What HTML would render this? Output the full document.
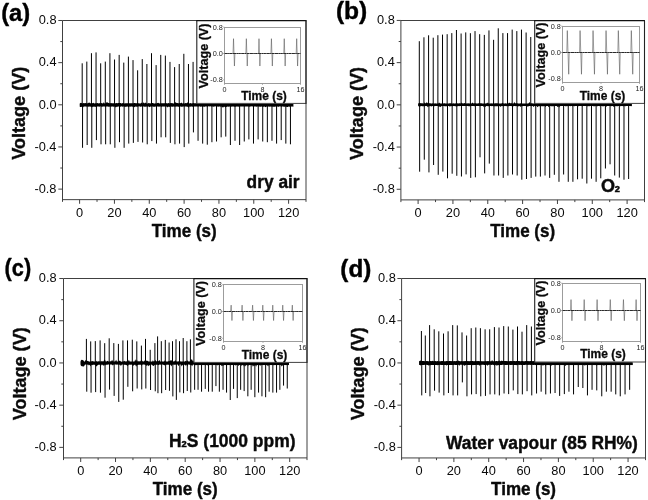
<!DOCTYPE html>
<html><head><meta charset="utf-8"><title>Voltage response</title>
<style>
html,body{margin:0;padding:0;background:#fff;}
svg{display:block;font-family:"Liberation Sans",sans-serif;will-change:transform;}
text{-webkit-font-smoothing:antialiased;}
</style></head>
<body>
<svg width="648" height="500" viewBox="0 0 648 500">
<rect width="648" height="500" fill="#fff"/>
<g stroke="#000" stroke-width="1.0" fill="none">
<line x1="82.20" y1="104.80" x2="82.20" y2="63.30"/>
<line x1="82.55" y1="104.80" x2="82.55" y2="147.80"/>
<line x1="86.82" y1="104.80" x2="86.82" y2="61.60"/>
<line x1="87.17" y1="104.80" x2="87.17" y2="145.00"/>
<line x1="91.44" y1="104.80" x2="91.44" y2="53.20"/>
<line x1="91.79" y1="104.80" x2="91.79" y2="147.80"/>
<line x1="96.06" y1="104.80" x2="96.06" y2="52.40"/>
<line x1="96.41" y1="104.80" x2="96.41" y2="140.10"/>
<line x1="100.68" y1="104.80" x2="100.68" y2="63.30"/>
<line x1="101.03" y1="104.80" x2="101.03" y2="144.30"/>
<line x1="105.30" y1="104.80" x2="105.30" y2="61.60"/>
<line x1="105.65" y1="104.80" x2="105.65" y2="144.30"/>
<line x1="109.92" y1="104.80" x2="109.92" y2="53.20"/>
<line x1="110.27" y1="104.80" x2="110.27" y2="144.30"/>
<line x1="114.54" y1="104.80" x2="114.54" y2="59.50"/>
<line x1="114.89" y1="104.80" x2="114.89" y2="147.80"/>
<line x1="119.16" y1="104.80" x2="119.16" y2="54.90"/>
<line x1="119.51" y1="104.80" x2="119.51" y2="142.20"/>
<line x1="123.78" y1="104.80" x2="123.78" y2="62.60"/>
<line x1="124.13" y1="104.80" x2="124.13" y2="147.80"/>
<line x1="128.40" y1="104.80" x2="128.40" y2="56.60"/>
<line x1="128.75" y1="104.80" x2="128.75" y2="143.60"/>
<line x1="133.02" y1="104.80" x2="133.02" y2="60.10"/>
<line x1="133.37" y1="104.80" x2="133.37" y2="142.90"/>
<line x1="137.64" y1="104.80" x2="137.64" y2="70.30"/>
<line x1="137.99" y1="104.80" x2="137.99" y2="141.90"/>
<line x1="142.26" y1="104.80" x2="142.26" y2="59.10"/>
<line x1="142.61" y1="104.80" x2="142.61" y2="142.50"/>
<line x1="146.88" y1="104.80" x2="146.88" y2="64.00"/>
<line x1="147.23" y1="104.80" x2="147.23" y2="144.30"/>
<line x1="151.50" y1="104.80" x2="151.50" y2="53.20"/>
<line x1="151.85" y1="104.80" x2="151.85" y2="141.10"/>
<line x1="156.12" y1="104.80" x2="156.12" y2="65.10"/>
<line x1="156.47" y1="104.80" x2="156.47" y2="143.60"/>
<line x1="160.74" y1="104.80" x2="160.74" y2="54.90"/>
<line x1="161.09" y1="104.80" x2="161.09" y2="137.30"/>
<line x1="165.36" y1="104.80" x2="165.36" y2="55.60"/>
<line x1="165.71" y1="104.80" x2="165.71" y2="137.30"/>
<line x1="169.98" y1="104.80" x2="169.98" y2="61.90"/>
<line x1="170.33" y1="104.80" x2="170.33" y2="142.90"/>
<line x1="174.60" y1="104.80" x2="174.60" y2="67.10"/>
<line x1="174.95" y1="104.80" x2="174.95" y2="144.30"/>
<line x1="179.22" y1="104.80" x2="179.22" y2="64.00"/>
<line x1="179.57" y1="104.80" x2="179.57" y2="143.60"/>
<line x1="183.84" y1="104.80" x2="183.84" y2="53.80"/>
<line x1="184.19" y1="104.80" x2="184.19" y2="147.10"/>
<line x1="188.46" y1="104.80" x2="188.46" y2="64.00"/>
<line x1="188.81" y1="104.80" x2="188.81" y2="143.60"/>
<line x1="193.08" y1="104.80" x2="193.08" y2="61.90"/>
<line x1="193.43" y1="104.80" x2="193.43" y2="132.40"/>
<line x1="198.05" y1="104.80" x2="198.05" y2="140.80"/>
<line x1="202.67" y1="104.80" x2="202.67" y2="143.60"/>
<line x1="207.29" y1="104.80" x2="207.29" y2="144.70"/>
<line x1="211.91" y1="104.80" x2="211.91" y2="142.20"/>
<line x1="216.53" y1="104.80" x2="216.53" y2="141.50"/>
<line x1="221.15" y1="104.80" x2="221.15" y2="137.30"/>
<line x1="225.77" y1="104.80" x2="225.77" y2="136.60"/>
<line x1="230.39" y1="104.80" x2="230.39" y2="145.00"/>
<line x1="235.01" y1="104.80" x2="235.01" y2="140.80"/>
<line x1="239.63" y1="104.80" x2="239.63" y2="145.00"/>
<line x1="244.25" y1="104.80" x2="244.25" y2="141.50"/>
<line x1="248.87" y1="104.80" x2="248.87" y2="139.40"/>
<line x1="253.49" y1="104.80" x2="253.49" y2="143.60"/>
<line x1="258.11" y1="104.80" x2="258.11" y2="139.40"/>
<line x1="262.73" y1="104.80" x2="262.73" y2="141.50"/>
<line x1="267.35" y1="104.80" x2="267.35" y2="142.20"/>
<line x1="271.97" y1="104.80" x2="271.97" y2="140.80"/>
<line x1="276.59" y1="104.80" x2="276.59" y2="143.60"/>
<line x1="281.21" y1="104.80" x2="281.21" y2="140.10"/>
<line x1="285.83" y1="104.80" x2="285.83" y2="143.60"/>
<line x1="290.45" y1="104.80" x2="290.45" y2="144.30"/>
</g>
<polygon points="79.8,103.30 80.6,103.29 81.4,103.42 82.2,103.39 83.0,103.19 83.8,102.95 84.6,103.37 85.4,102.96 86.2,103.26 87.0,103.32 87.8,103.19 88.6,102.82 89.4,102.58 90.2,103.19 91.0,103.18 91.8,103.02 92.6,103.16 93.4,102.72 94.2,103.40 95.0,103.34 95.8,103.20 96.6,103.32 97.4,103.02 98.2,103.34 99.0,103.45 99.8,103.02 100.6,103.15 101.4,103.06 102.2,103.32 103.0,103.38 103.8,102.36 104.6,103.38 105.4,103.39 106.2,102.82 107.0,101.94 107.8,102.75 108.6,103.06 109.4,103.37 110.2,103.30 111.0,103.07 111.8,103.35 112.6,103.32 113.4,103.25 114.2,103.29 115.0,103.36 115.8,103.23 116.6,103.04 117.4,103.37 118.2,103.01 119.0,103.12 119.8,103.04 120.6,103.01 121.4,103.39 122.2,103.21 123.0,103.08 123.8,103.34 124.6,103.39 125.4,103.19 126.2,103.22 127.0,103.37 127.8,103.24 128.6,103.22 129.4,103.34 130.2,103.20 131.0,103.17 131.8,103.25 132.6,103.14 133.4,103.20 134.2,103.11 135.0,103.10 135.8,103.15 136.6,103.35 137.4,103.00 138.2,103.22 139.0,103.13 139.8,103.44 140.6,103.42 141.4,102.47 142.2,103.39 143.0,103.33 143.8,102.31 144.6,103.42 145.4,102.38 146.2,103.30 147.0,103.39 147.8,103.43 148.6,103.11 149.4,103.29 150.2,103.20 151.0,103.40 151.8,103.07 152.6,103.01 153.4,103.16 154.2,103.42 155.0,103.41 155.8,103.32 156.6,103.38 157.4,103.01 158.2,102.85 159.0,103.22 159.8,103.38 160.6,103.35 161.4,103.15 162.2,103.30 163.0,103.16 163.8,103.17 164.6,103.21 165.4,103.08 166.2,102.98 167.0,103.40 167.8,103.17 168.6,103.11 169.4,103.42 170.2,103.12 171.0,103.23 171.8,103.10 172.6,103.34 173.4,103.44 174.2,103.14 175.0,102.17 175.8,102.46 176.6,103.01 177.4,103.02 178.2,103.21 179.0,103.22 179.8,103.04 180.6,103.25 181.4,102.41 182.2,103.40 183.0,103.32 183.8,103.18 184.6,103.43 185.4,103.03 186.2,103.36 187.0,103.08 187.8,102.32 188.6,103.11 189.4,103.39 190.2,103.12 191.0,103.31 191.8,103.38 192.6,103.35 193.4,102.98 194.2,103.33 195.0,103.26 195.8,103.30 196.6,103.39 197.4,103.35 198.2,103.25 199.0,103.44 199.8,102.77 200.6,103.08 201.4,103.40 202.2,103.03 203.0,102.31 203.8,103.04 204.6,103.34 205.4,103.21 206.2,103.18 207.0,103.02 207.8,103.34 208.6,103.31 209.4,103.26 210.2,103.35 211.0,103.14 211.8,103.22 212.6,103.08 213.4,103.32 214.2,103.35 215.0,103.38 215.8,102.91 216.6,103.05 217.4,103.30 218.2,103.44 219.0,102.96 219.8,103.02 220.6,103.29 221.4,103.43 222.2,103.36 223.0,103.04 223.8,103.33 224.6,103.33 225.4,103.13 226.2,103.04 227.0,103.24 227.8,103.34 228.6,103.37 229.4,103.10 230.2,103.05 231.0,102.68 231.8,103.01 232.6,103.41 233.4,103.25 234.2,103.15 235.0,103.40 235.8,103.28 236.6,103.34 237.4,103.30 238.2,103.35 239.0,103.40 239.8,103.04 240.6,103.01 241.4,103.06 242.2,103.02 243.0,103.35 243.8,103.34 244.6,103.44 245.4,103.31 246.2,103.42 247.0,103.16 247.8,103.27 248.6,103.31 249.4,103.06 250.2,102.04 251.0,103.08 251.8,103.38 252.6,103.04 253.4,103.22 254.2,103.03 255.0,103.01 255.8,101.90 256.6,103.04 257.4,103.10 258.2,103.08 259.0,103.22 259.8,102.45 260.6,102.71 261.4,103.17 262.2,103.26 263.0,103.44 263.8,103.11 264.6,103.24 265.4,103.41 266.2,103.41 267.0,103.43 267.8,103.39 268.6,103.08 269.4,103.02 270.2,103.03 271.0,103.38 271.8,103.39 272.6,103.33 273.4,103.38 274.2,102.74 275.0,103.29 275.8,103.05 276.6,103.27 277.4,103.19 278.2,102.39 279.0,103.16 279.8,103.13 280.6,103.26 281.4,103.34 282.2,103.40 283.0,103.18 283.8,103.39 284.6,103.41 285.4,102.50 286.2,103.29 287.0,103.12 287.8,102.33 288.6,103.03 289.4,103.22 290.2,102.24 291.0,103.13 291.8,103.24 292.6,103.00 293.4,103.14 293.4,106.73 292.6,106.45 291.8,106.68 291.0,106.35 290.2,106.49 289.4,106.64 288.6,106.41 287.8,107.12 287.0,107.10 286.2,106.64 285.4,106.47 284.6,106.64 283.8,106.77 283.0,106.44 282.2,106.51 281.4,106.64 280.6,106.58 279.8,106.35 279.0,106.79 278.2,106.68 277.4,106.51 276.6,106.71 275.8,106.40 275.0,106.74 274.2,106.70 273.4,106.77 272.6,106.80 271.8,106.58 271.0,106.75 270.2,106.38 269.4,106.76 268.6,106.44 267.8,106.74 267.0,106.58 266.2,106.68 265.4,107.31 264.6,106.40 263.8,106.70 263.0,106.63 262.2,106.65 261.4,106.49 260.6,106.73 259.8,106.75 259.0,106.52 258.2,106.43 257.4,106.45 256.6,106.63 255.8,106.57 255.0,106.44 254.2,106.40 253.4,106.42 252.6,106.39 251.8,106.36 251.0,106.53 250.2,106.44 249.4,106.80 248.6,106.60 247.8,106.48 247.0,106.39 246.2,106.40 245.4,106.44 244.6,106.50 243.8,106.62 243.0,106.52 242.2,106.40 241.4,106.55 240.6,106.61 239.8,106.60 239.0,106.56 238.2,106.71 237.4,106.53 236.6,106.42 235.8,106.68 235.0,106.73 234.2,106.69 233.4,106.46 232.6,106.39 231.8,106.75 231.0,106.38 230.2,106.70 229.4,106.62 228.6,106.71 227.8,106.54 227.0,106.78 226.2,106.92 225.4,107.40 224.6,106.78 223.8,106.69 223.0,107.80 222.2,107.01 221.4,106.56 220.6,106.72 219.8,106.41 219.0,106.43 218.2,106.65 217.4,106.43 216.6,106.68 215.8,106.37 215.0,106.53 214.2,106.54 213.4,106.78 212.6,106.45 211.8,106.44 211.0,106.44 210.2,106.37 209.4,106.47 208.6,106.36 207.8,106.46 207.0,106.64 206.2,106.35 205.4,106.61 204.6,106.72 203.8,106.64 203.0,106.60 202.2,106.67 201.4,106.42 200.6,106.73 199.8,106.61 199.0,106.36 198.2,106.78 197.4,106.47 196.6,106.58 195.8,106.38 195.0,106.54 194.2,106.61 193.4,106.72 192.6,106.76 191.8,106.44 191.0,106.60 190.2,106.79 189.4,106.56 188.6,107.75 187.8,106.67 187.0,106.63 186.2,106.52 185.4,106.46 184.6,106.40 183.8,106.51 183.0,106.52 182.2,106.77 181.4,106.73 180.6,106.49 179.8,106.57 179.0,106.75 178.2,106.78 177.4,106.44 176.6,106.55 175.8,106.77 175.0,106.56 174.2,106.65 173.4,106.38 172.6,106.68 171.8,106.80 171.0,106.52 170.2,106.44 169.4,107.00 168.6,106.58 167.8,107.61 167.0,106.73 166.2,106.45 165.4,106.61 164.6,106.58 163.8,106.68 163.0,106.37 162.2,106.79 161.4,106.67 160.6,106.61 159.8,106.53 159.0,106.76 158.2,106.51 157.4,106.60 156.6,106.55 155.8,106.46 155.0,106.73 154.2,106.68 153.4,106.69 152.6,106.50 151.8,106.53 151.0,106.72 150.2,106.44 149.4,107.24 148.6,106.48 147.8,106.44 147.0,106.78 146.2,106.60 145.4,106.74 144.6,106.77 143.8,106.39 143.0,106.42 142.2,106.54 141.4,106.47 140.6,106.79 139.8,106.50 139.0,106.36 138.2,106.50 137.4,106.72 136.6,106.78 135.8,106.41 135.0,106.75 134.2,107.35 133.4,106.77 132.6,106.74 131.8,106.59 131.0,106.58 130.2,106.69 129.4,106.47 128.6,107.27 127.8,106.68 127.0,106.35 126.2,107.12 125.4,106.76 124.6,106.76 123.8,106.61 123.0,106.44 122.2,106.77 121.4,106.36 120.6,106.65 119.8,106.71 119.0,106.43 118.2,106.53 117.4,106.71 116.6,106.70 115.8,107.44 115.0,106.63 114.2,106.45 113.4,106.77 112.6,106.47 111.8,106.62 111.0,106.71 110.2,106.45 109.4,106.70 108.6,106.66 107.8,106.59 107.0,106.42 106.2,106.39 105.4,106.73 104.6,106.46 103.8,106.51 103.0,106.50 102.2,106.64 101.4,106.71 100.6,106.37 99.8,106.66 99.0,106.54 98.2,106.57 97.4,106.42 96.6,106.54 95.8,106.75 95.0,107.06 94.2,106.38 93.4,106.65 92.6,106.80 91.8,107.41 91.0,106.61 90.2,106.74 89.4,106.57 88.6,106.79 87.8,106.59 87.0,106.71 86.2,106.49 85.4,106.38 84.6,106.61 83.8,106.41 83.0,107.56 82.2,106.45 81.4,106.39 80.6,106.90 79.8,107.06" fill="#000"/>
<ellipse cx="81.00" cy="104.90" rx="1.2" ry="2.15" fill="#000"/>
<rect x="196.80" y="20.50" width="109.20" height="83.40" fill="#fff" stroke="none"/>
<line x1="196.80" y1="20.50" x2="196.80" y2="103.90" stroke="#222" stroke-width="1.1" />
<line x1="196.80" y1="103.40" x2="306.00" y2="103.40" stroke="#404040" stroke-width="1.0" />
<rect x="224.50" y="27.50" width="76.00" height="56.00" fill="none" stroke="#9c9c9c" stroke-width="1"/>
<path d="M224.50,53.50 L233.03,53.50 L233.53,38.68 L234.43,66.02 L234.93,53.50 L245.85,53.50 L246.35,38.68 L247.25,66.02 L247.75,53.50 L258.49,53.50 L258.99,38.68 L259.88,66.02 L260.38,53.50 L270.93,53.50 L271.43,38.68 L272.33,66.02 L272.83,53.50 L283.75,53.50 L284.25,38.68 L285.15,66.02 L285.65,53.50 L296.20,53.50 L296.70,38.68 L297.60,66.02 L298.10,53.50 L300.50,53.50" stroke="#505050" stroke-width="0.55" fill="none"/>
<line x1="224.50" y1="53.50" x2="300.50" y2="53.50" stroke="#2a2a2a" stroke-width="1.0" stroke-dasharray="3.2 0.5 1.4 0.4 2.3 0.6"/>
<line x1="223.00" y1="27.15" x2="224.50" y2="27.15" stroke="#999" stroke-width="0.7" />
<text x="222.80" y="29.75" font-size="7.3" fill="#222" text-anchor="end" >0.8</text>
<line x1="223.00" y1="53.50" x2="224.50" y2="53.50" stroke="#999" stroke-width="0.7" />
<text x="222.80" y="56.10" font-size="7.3" fill="#222" text-anchor="end" >0.0</text>
<line x1="223.00" y1="79.85" x2="224.50" y2="79.85" stroke="#999" stroke-width="0.7" />
<text x="222.80" y="82.45" font-size="7.3" fill="#222" text-anchor="end" >-0.8</text>
<line x1="224.50" y1="83.50" x2="224.50" y2="85.00" stroke="#999" stroke-width="0.7" />
<text x="224.50" y="91.70" font-size="7.2" fill="#222" text-anchor="middle" >0</text>
<line x1="262.50" y1="83.50" x2="262.50" y2="85.00" stroke="#999" stroke-width="0.7" />
<text x="262.50" y="91.70" font-size="7.2" fill="#222" text-anchor="middle" >8</text>
<line x1="300.50" y1="83.50" x2="300.50" y2="85.00" stroke="#999" stroke-width="0.7" />
<text x="300.50" y="91.70" font-size="7.2" fill="#222" text-anchor="middle" >16</text>
<text x="241.20" y="99.80" font-size="12.4" fill="#0a0a0a" text-anchor="start" font-weight="700" stroke="#0a0a0a" stroke-width="0.3" stroke-linejoin="round" textLength="45.60" lengthAdjust="spacingAndGlyphs" >Time (s)</text>
<text x="208.20" y="88.50" font-size="12.6" fill="#0a0a0a" text-anchor="start" font-weight="700" stroke="#0a0a0a" stroke-width="0.3" stroke-linejoin="round" textLength="65.00" lengthAdjust="spacingAndGlyphs" transform="rotate(-90 208.20 88.50)" >Voltage (V)</text>
<path d="M62.50,201.85 V20.50 H306.00 V201.85 M62.50,199.65 H306.00" stroke="#404040" stroke-width="1.0" fill="none"/>
<line x1="196.30" y1="20.60" x2="306.50" y2="20.60" stroke="#111" stroke-width="1.2" />
<line x1="306.00" y1="20.50" x2="306.00" y2="103.90" stroke="#222" stroke-width="1.1" />
<line x1="58.30" y1="189.11" x2="62.50" y2="189.11" stroke="#404040" stroke-width="1.0" />
<text x="56.50" y="192.81" font-size="12.8" fill="#0a0a0a" text-anchor="end" >-0.8</text>
<line x1="60.30" y1="168.03" x2="62.50" y2="168.03" stroke="#404040" stroke-width="1.0" />
<line x1="58.30" y1="146.95" x2="62.50" y2="146.95" stroke="#404040" stroke-width="1.0" />
<text x="56.50" y="150.65" font-size="12.8" fill="#0a0a0a" text-anchor="end" >-0.4</text>
<line x1="60.30" y1="125.88" x2="62.50" y2="125.88" stroke="#404040" stroke-width="1.0" />
<line x1="58.30" y1="104.80" x2="62.50" y2="104.80" stroke="#404040" stroke-width="1.0" />
<text x="56.50" y="108.50" font-size="12.8" fill="#0a0a0a" text-anchor="end" >0.0</text>
<line x1="60.30" y1="83.72" x2="62.50" y2="83.72" stroke="#404040" stroke-width="1.0" />
<line x1="58.30" y1="62.65" x2="62.50" y2="62.65" stroke="#404040" stroke-width="1.0" />
<text x="56.50" y="66.35" font-size="12.8" fill="#0a0a0a" text-anchor="end" >0.4</text>
<line x1="60.30" y1="41.57" x2="62.50" y2="41.57" stroke="#404040" stroke-width="1.0" />
<line x1="58.30" y1="20.49" x2="62.50" y2="20.49" stroke="#404040" stroke-width="1.0" />
<text x="56.50" y="24.19" font-size="12.8" fill="#0a0a0a" text-anchor="end" >0.8</text>
<line x1="79.60" y1="199.65" x2="79.60" y2="203.75" stroke="#404040" stroke-width="1.0" />
<text x="79.60" y="217.05" font-size="12.8" fill="#0a0a0a" text-anchor="middle" >0</text>
<line x1="97.02" y1="199.65" x2="97.02" y2="201.85" stroke="#404040" stroke-width="1.0" />
<line x1="114.43" y1="199.65" x2="114.43" y2="203.75" stroke="#404040" stroke-width="1.0" />
<text x="114.43" y="217.05" font-size="12.8" fill="#0a0a0a" text-anchor="middle" >20</text>
<line x1="131.85" y1="199.65" x2="131.85" y2="201.85" stroke="#404040" stroke-width="1.0" />
<line x1="149.27" y1="199.65" x2="149.27" y2="203.75" stroke="#404040" stroke-width="1.0" />
<text x="149.27" y="217.05" font-size="12.8" fill="#0a0a0a" text-anchor="middle" >40</text>
<line x1="166.69" y1="199.65" x2="166.69" y2="201.85" stroke="#404040" stroke-width="1.0" />
<line x1="184.10" y1="199.65" x2="184.10" y2="203.75" stroke="#404040" stroke-width="1.0" />
<text x="184.10" y="217.05" font-size="12.8" fill="#0a0a0a" text-anchor="middle" >60</text>
<line x1="201.52" y1="199.65" x2="201.52" y2="201.85" stroke="#404040" stroke-width="1.0" />
<line x1="218.94" y1="199.65" x2="218.94" y2="203.75" stroke="#404040" stroke-width="1.0" />
<text x="218.94" y="217.05" font-size="12.8" fill="#0a0a0a" text-anchor="middle" >80</text>
<line x1="236.35" y1="199.65" x2="236.35" y2="201.85" stroke="#404040" stroke-width="1.0" />
<line x1="253.77" y1="199.65" x2="253.77" y2="203.75" stroke="#404040" stroke-width="1.0" />
<text x="253.77" y="217.05" font-size="12.8" fill="#0a0a0a" text-anchor="middle" >100</text>
<line x1="271.19" y1="199.65" x2="271.19" y2="201.85" stroke="#404040" stroke-width="1.0" />
<line x1="288.60" y1="199.65" x2="288.60" y2="203.75" stroke="#404040" stroke-width="1.0" />
<text x="288.60" y="217.05" font-size="12.8" fill="#0a0a0a" text-anchor="middle" >120</text>
<text x="151.75" y="236.75" font-size="18" fill="#0a0a0a" text-anchor="start" font-weight="700" stroke="#0a0a0a" stroke-width="0.4" stroke-linejoin="round" textLength="65.00" lengthAdjust="spacingAndGlyphs" >Time (s)</text>
<text x="25.30" y="159.78" font-size="18" fill="#0a0a0a" text-anchor="start" font-weight="700" stroke="#0a0a0a" stroke-width="0.4" stroke-linejoin="round" textLength="93.00" lengthAdjust="spacingAndGlyphs" transform="rotate(-90 25.30 159.78)" >Voltage (V)</text>
<text x="1.20" y="20.60" font-size="24" fill="#000" text-anchor="start" font-weight="700" stroke="#000" stroke-width="0.4" stroke-linejoin="round" textLength="29.00" lengthAdjust="spacingAndGlyphs" >(a)</text>
<text x="246.60" y="187.70" font-size="18" fill="#0a0a0a" text-anchor="start" font-weight="700" stroke="#0a0a0a" stroke-width="0.4" stroke-linejoin="round" textLength="53.00" lengthAdjust="spacingAndGlyphs" >dry air</text>
<g stroke="#000" stroke-width="1.0" fill="none">
<line x1="419.30" y1="104.85" x2="419.30" y2="41.20"/>
<line x1="419.65" y1="104.85" x2="419.65" y2="171.70"/>
<line x1="423.94" y1="104.85" x2="423.94" y2="37.30"/>
<line x1="424.29" y1="104.85" x2="424.29" y2="159.70"/>
<line x1="428.59" y1="104.85" x2="428.59" y2="35.30"/>
<line x1="428.94" y1="104.85" x2="428.94" y2="172.40"/>
<line x1="433.23" y1="104.85" x2="433.23" y2="37.70"/>
<line x1="433.58" y1="104.85" x2="433.58" y2="165.00"/>
<line x1="437.88" y1="104.85" x2="437.88" y2="35.20"/>
<line x1="438.23" y1="104.85" x2="438.23" y2="174.80"/>
<line x1="442.52" y1="104.85" x2="442.52" y2="34.60"/>
<line x1="442.87" y1="104.85" x2="442.87" y2="171.60"/>
<line x1="447.16" y1="104.85" x2="447.16" y2="34.20"/>
<line x1="447.51" y1="104.85" x2="447.51" y2="178.30"/>
<line x1="451.81" y1="104.85" x2="451.81" y2="33.10"/>
<line x1="452.16" y1="104.85" x2="452.16" y2="173.70"/>
<line x1="456.45" y1="104.85" x2="456.45" y2="30.00"/>
<line x1="456.80" y1="104.85" x2="456.80" y2="175.80"/>
<line x1="461.10" y1="104.85" x2="461.10" y2="33.50"/>
<line x1="461.45" y1="104.85" x2="461.45" y2="176.50"/>
<line x1="465.74" y1="104.85" x2="465.74" y2="32.40"/>
<line x1="466.09" y1="104.85" x2="466.09" y2="174.40"/>
<line x1="470.38" y1="104.85" x2="470.38" y2="33.20"/>
<line x1="470.73" y1="104.85" x2="470.73" y2="177.90"/>
<line x1="475.03" y1="104.85" x2="475.03" y2="31.10"/>
<line x1="475.38" y1="104.85" x2="475.38" y2="177.30"/>
<line x1="479.67" y1="104.85" x2="479.67" y2="34.20"/>
<line x1="480.02" y1="104.85" x2="480.02" y2="157.30"/>
<line x1="484.32" y1="104.85" x2="484.32" y2="34.90"/>
<line x1="484.67" y1="104.85" x2="484.67" y2="173.40"/>
<line x1="488.96" y1="104.85" x2="488.96" y2="30.40"/>
<line x1="489.31" y1="104.85" x2="489.31" y2="163.60"/>
<line x1="493.60" y1="104.85" x2="493.60" y2="39.80"/>
<line x1="493.95" y1="104.85" x2="493.95" y2="175.50"/>
<line x1="498.25" y1="104.85" x2="498.25" y2="28.30"/>
<line x1="498.60" y1="104.85" x2="498.60" y2="175.50"/>
<line x1="502.89" y1="104.85" x2="502.89" y2="33.10"/>
<line x1="503.24" y1="104.85" x2="503.24" y2="177.90"/>
<line x1="507.54" y1="104.85" x2="507.54" y2="33.10"/>
<line x1="507.89" y1="104.85" x2="507.89" y2="175.50"/>
<line x1="512.18" y1="104.85" x2="512.18" y2="29.60"/>
<line x1="512.53" y1="104.85" x2="512.53" y2="174.50"/>
<line x1="516.82" y1="104.85" x2="516.82" y2="31.10"/>
<line x1="517.17" y1="104.85" x2="517.17" y2="175.50"/>
<line x1="521.47" y1="104.85" x2="521.47" y2="29.60"/>
<line x1="521.82" y1="104.85" x2="521.82" y2="179.70"/>
<line x1="526.11" y1="104.85" x2="526.11" y2="32.50"/>
<line x1="526.46" y1="104.85" x2="526.46" y2="179.00"/>
<line x1="530.76" y1="104.85" x2="530.76" y2="37.00"/>
<line x1="531.11" y1="104.85" x2="531.11" y2="177.90"/>
<line x1="535.75" y1="104.85" x2="535.75" y2="176.60"/>
<line x1="540.39" y1="104.85" x2="540.39" y2="176.60"/>
<line x1="545.04" y1="104.85" x2="545.04" y2="175.50"/>
<line x1="549.68" y1="104.85" x2="549.68" y2="177.90"/>
<line x1="554.33" y1="104.85" x2="554.33" y2="174.80"/>
<line x1="558.97" y1="104.85" x2="558.97" y2="181.80"/>
<line x1="563.61" y1="104.85" x2="563.61" y2="174.50"/>
<line x1="568.26" y1="104.85" x2="568.26" y2="181.80"/>
<line x1="572.90" y1="104.85" x2="572.90" y2="181.80"/>
<line x1="577.55" y1="104.85" x2="577.55" y2="179.30"/>
<line x1="582.19" y1="104.85" x2="582.19" y2="178.70"/>
<line x1="586.83" y1="104.85" x2="586.83" y2="183.50"/>
<line x1="591.48" y1="104.85" x2="591.48" y2="178.70"/>
<line x1="596.12" y1="104.85" x2="596.12" y2="181.80"/>
<line x1="600.77" y1="104.85" x2="600.77" y2="178.30"/>
<line x1="605.41" y1="104.85" x2="605.41" y2="168.50"/>
<line x1="610.05" y1="104.85" x2="610.05" y2="164.30"/>
<line x1="614.70" y1="104.85" x2="614.70" y2="175.50"/>
<line x1="619.34" y1="104.85" x2="619.34" y2="177.60"/>
<line x1="623.99" y1="104.85" x2="623.99" y2="179.70"/>
<line x1="628.63" y1="104.85" x2="628.63" y2="179.00"/>
</g>
<polygon points="418.3,103.38 419.1,103.47 419.9,103.29 420.7,103.33 421.5,103.29 422.3,103.36 423.1,103.41 423.9,103.42 424.7,102.30 425.5,103.54 426.3,102.61 427.1,102.57 427.9,103.30 428.7,103.01 429.5,103.30 430.3,103.23 431.1,103.49 431.9,103.47 432.7,103.26 433.5,103.54 434.3,103.45 435.1,103.29 435.9,103.55 436.7,103.55 437.5,103.49 438.3,103.47 439.1,102.51 439.9,103.34 440.7,103.43 441.5,103.54 442.3,103.40 443.1,103.41 443.9,103.36 444.7,103.30 445.5,103.42 446.3,103.41 447.1,103.46 447.9,103.50 448.7,103.50 449.5,103.33 450.3,103.25 451.1,103.22 451.9,103.54 452.7,103.40 453.5,103.37 454.3,103.42 455.1,103.48 455.9,103.34 456.7,103.41 457.5,103.32 458.3,103.42 459.1,103.35 459.9,103.32 460.7,103.54 461.5,102.52 462.3,103.33 463.1,103.39 463.9,103.34 464.7,102.90 465.5,103.55 466.3,103.44 467.1,103.27 467.9,103.43 468.7,103.31 469.5,103.48 470.3,103.30 471.1,103.39 471.9,103.29 472.7,102.48 473.5,103.48 474.3,103.36 475.1,103.29 475.9,103.31 476.7,103.55 477.5,103.47 478.3,103.32 479.1,103.31 479.9,103.32 480.7,103.30 481.5,103.33 482.3,103.47 483.1,103.53 483.9,103.40 484.7,103.41 485.5,103.44 486.3,103.36 487.1,103.27 487.9,102.47 488.7,103.45 489.5,103.39 490.3,103.42 491.1,103.30 491.9,103.40 492.7,103.45 493.5,102.42 494.3,103.39 495.1,103.27 495.9,103.28 496.7,103.34 497.5,103.35 498.3,103.54 499.1,103.44 499.9,103.47 500.7,103.42 501.5,103.54 502.3,102.77 503.1,103.27 503.9,103.52 504.7,103.55 505.5,103.26 506.3,103.54 507.1,103.49 507.9,102.48 508.7,103.41 509.5,102.49 510.3,103.53 511.1,102.81 511.9,103.42 512.7,103.44 513.5,103.43 514.3,102.11 515.1,103.30 515.9,103.30 516.7,103.28 517.5,103.28 518.3,103.42 519.1,103.54 519.9,103.38 520.7,103.34 521.5,103.31 522.3,103.48 523.1,103.49 523.9,103.41 524.7,103.48 525.5,103.39 526.3,103.49 527.1,103.38 527.9,103.54 528.7,103.31 529.5,102.11 530.3,103.40 531.1,103.42 531.9,103.00 532.7,103.52 533.5,103.41 534.3,103.43 535.1,103.38 535.9,103.43 536.7,102.92 537.5,103.28 538.3,103.34 539.1,103.32 539.9,102.95 540.7,103.51 541.5,102.57 542.3,103.54 543.1,103.29 543.9,103.52 544.7,103.41 545.5,103.36 546.3,103.38 547.1,103.43 547.9,103.45 548.7,103.28 549.5,103.35 550.3,103.47 551.1,102.87 551.9,103.53 552.7,103.55 553.5,103.55 554.3,103.42 555.1,103.51 555.9,102.70 556.7,103.47 557.5,103.31 558.3,102.37 559.1,103.30 559.9,103.41 560.7,103.30 561.5,103.37 562.3,103.40 563.1,103.29 563.9,103.32 564.7,103.40 565.5,103.54 566.3,103.52 567.1,102.56 567.9,102.26 568.7,103.54 569.5,103.47 570.3,103.37 571.1,103.33 571.9,103.43 572.7,103.43 573.5,103.48 574.3,103.31 575.1,103.53 575.9,103.48 576.7,103.39 577.5,103.54 578.3,103.27 579.1,103.28 579.9,103.35 580.7,103.36 581.5,103.26 582.3,103.51 583.1,103.47 583.9,103.51 584.7,102.75 585.5,103.37 586.3,103.34 587.1,103.41 587.9,103.40 588.7,103.29 589.5,103.46 590.3,103.50 591.1,103.53 591.9,103.52 592.7,103.50 593.5,103.37 594.3,103.33 595.1,103.31 595.9,103.29 596.7,103.40 597.5,103.31 598.3,103.41 599.1,103.43 599.9,103.31 600.7,103.49 601.5,103.38 602.3,103.30 603.1,103.36 603.9,103.40 604.7,103.25 605.5,103.43 606.3,103.27 607.1,103.43 607.9,103.26 608.7,103.25 609.5,103.50 610.3,103.40 611.1,103.30 611.9,103.50 612.7,103.49 613.5,103.44 614.3,103.31 615.1,103.30 615.9,103.40 616.7,103.39 617.5,103.51 618.3,103.50 619.1,102.31 619.9,103.34 620.7,103.52 621.5,102.26 622.3,103.26 623.1,103.54 623.9,103.28 624.7,103.26 625.5,103.43 626.3,103.29 627.1,103.50 627.9,102.77 628.7,103.43 629.5,103.44 630.3,103.48 631.1,103.15 631.9,103.51 631.9,106.08 631.1,106.16 630.3,105.96 629.5,106.02 628.7,105.97 627.9,106.12 627.1,106.06 626.3,106.10 625.5,106.17 624.7,106.10 623.9,106.19 623.1,106.23 622.3,106.08 621.5,106.07 620.7,106.22 619.9,106.06 619.1,105.97 618.3,106.11 617.5,106.13 616.7,106.25 615.9,106.12 615.1,106.13 614.3,106.44 613.5,106.78 612.7,106.00 611.9,106.04 611.1,106.25 610.3,105.98 609.5,106.05 608.7,106.05 607.9,106.10 607.1,106.12 606.3,106.64 605.5,106.06 604.7,106.11 603.9,106.23 603.1,106.22 602.3,106.20 601.5,105.98 600.7,106.04 599.9,106.20 599.1,106.12 598.3,106.09 597.5,106.21 596.7,106.24 595.9,105.95 595.1,106.16 594.3,106.17 593.5,106.20 592.7,106.05 591.9,106.02 591.1,106.07 590.3,105.97 589.5,106.25 588.7,106.02 587.9,106.52 587.1,106.04 586.3,106.09 585.5,106.12 584.7,106.02 583.9,105.99 583.1,106.09 582.3,106.13 581.5,106.04 580.7,106.03 579.9,106.03 579.1,105.96 578.3,106.14 577.5,105.99 576.7,105.97 575.9,106.08 575.1,106.11 574.3,106.22 573.5,106.05 572.7,106.23 571.9,106.08 571.1,106.00 570.3,106.21 569.5,105.99 568.7,105.99 567.9,106.16 567.1,106.01 566.3,106.15 565.5,106.24 564.7,106.10 563.9,105.97 563.1,106.05 562.3,105.99 561.5,105.95 560.7,106.06 559.9,106.21 559.1,107.39 558.3,106.17 557.5,107.08 556.7,106.01 555.9,105.97 555.1,106.00 554.3,106.22 553.5,106.20 552.7,106.19 551.9,106.17 551.1,106.23 550.3,106.01 549.5,106.01 548.7,107.15 547.9,106.00 547.1,106.00 546.3,105.99 545.5,106.92 544.7,106.05 543.9,106.23 543.1,106.22 542.3,106.23 541.5,106.15 540.7,106.09 539.9,106.18 539.1,106.23 538.3,106.33 537.5,107.24 536.7,106.02 535.9,106.08 535.1,106.14 534.3,105.99 533.5,107.01 532.7,105.97 531.9,106.03 531.1,106.23 530.3,106.12 529.5,105.96 528.7,106.00 527.9,107.07 527.1,106.07 526.3,106.00 525.5,106.09 524.7,106.12 523.9,105.98 523.1,106.03 522.3,106.13 521.5,106.01 520.7,106.94 519.9,106.03 519.1,106.20 518.3,106.13 517.5,106.53 516.7,106.06 515.9,106.13 515.1,106.05 514.3,106.04 513.5,106.19 512.7,106.14 511.9,106.15 511.1,106.10 510.3,106.04 509.5,105.95 508.7,106.23 507.9,106.17 507.1,105.97 506.3,106.17 505.5,105.98 504.7,105.95 503.9,106.14 503.1,106.24 502.3,106.08 501.5,105.99 500.7,106.88 499.9,106.04 499.1,106.20 498.3,106.18 497.5,106.32 496.7,106.13 495.9,106.13 495.1,106.13 494.3,106.21 493.5,106.19 492.7,106.05 491.9,106.24 491.1,106.07 490.3,106.12 489.5,106.18 488.7,106.21 487.9,106.22 487.1,106.05 486.3,105.96 485.5,106.90 484.7,106.12 483.9,107.20 483.1,106.09 482.3,106.02 481.5,106.08 480.7,106.01 479.9,106.15 479.1,106.00 478.3,106.05 477.5,105.98 476.7,105.95 475.9,105.99 475.1,105.97 474.3,106.15 473.5,106.04 472.7,106.01 471.9,106.03 471.1,105.99 470.3,106.19 469.5,106.24 468.7,106.14 467.9,106.01 467.1,106.11 466.3,106.03 465.5,106.08 464.7,106.06 463.9,106.07 463.1,106.07 462.3,106.10 461.5,106.11 460.7,106.11 459.9,106.07 459.1,106.23 458.3,106.09 457.5,106.16 456.7,106.59 455.9,106.21 455.1,106.17 454.3,106.12 453.5,106.07 452.7,106.14 451.9,106.07 451.1,106.14 450.3,106.19 449.5,106.48 448.7,106.05 447.9,106.02 447.1,106.16 446.3,106.22 445.5,106.18 444.7,106.15 443.9,106.05 443.1,106.11 442.3,106.06 441.5,106.01 440.7,107.22 439.9,106.19 439.1,107.12 438.3,106.23 437.5,106.10 436.7,106.10 435.9,106.01 435.1,105.98 434.3,106.16 433.5,106.07 432.7,106.10 431.9,106.16 431.1,106.38 430.3,106.04 429.5,106.19 428.7,106.28 427.9,107.32 427.1,106.17 426.3,105.96 425.5,105.98 424.7,106.14 423.9,106.17 423.1,106.20 422.3,106.16 421.5,106.05 420.7,106.23 419.9,105.95 419.1,106.14 418.3,106.08" fill="#000"/>
<ellipse cx="419.50" cy="104.75" rx="1.2" ry="1.90" fill="#000"/>
<rect x="534.70" y="20.50" width="109.80" height="83.40" fill="#fff" stroke="none"/>
<line x1="534.70" y1="20.50" x2="534.70" y2="103.90" stroke="#222" stroke-width="1.1" />
<line x1="534.70" y1="103.40" x2="644.50" y2="103.40" stroke="#404040" stroke-width="1.0" />
<rect x="562.50" y="26.50" width="77.00" height="56.00" fill="none" stroke="#9c9c9c" stroke-width="1"/>
<path d="M562.50,52.50 L566.81,52.50 L567.31,30.59 L568.71,74.24 L569.21,52.50 L579.57,52.50 L580.07,30.59 L581.47,74.24 L581.97,52.50 L592.56,52.50 L593.06,30.59 L594.46,74.24 L594.96,52.50 L605.55,52.50 L606.05,30.59 L607.45,74.24 L607.95,52.50 L617.83,52.50 L618.33,30.59 L619.73,74.24 L620.23,52.50 L630.82,52.50 L631.32,30.59 L632.72,74.24 L633.22,52.50 L639.50,52.50" stroke="#505050" stroke-width="0.55" fill="none"/>
<line x1="562.50" y1="52.50" x2="639.50" y2="52.50" stroke="#2a2a2a" stroke-width="1.0" stroke-dasharray="3.2 0.5 1.4 0.4 2.3 0.6"/>
<line x1="561.00" y1="26.15" x2="562.50" y2="26.15" stroke="#999" stroke-width="0.7" />
<text x="560.80" y="28.75" font-size="7.3" fill="#222" text-anchor="end" >0.8</text>
<line x1="561.00" y1="52.50" x2="562.50" y2="52.50" stroke="#999" stroke-width="0.7" />
<text x="560.80" y="55.10" font-size="7.3" fill="#222" text-anchor="end" >0.0</text>
<line x1="561.00" y1="78.85" x2="562.50" y2="78.85" stroke="#999" stroke-width="0.7" />
<text x="560.80" y="81.45" font-size="7.3" fill="#222" text-anchor="end" >-0.8</text>
<line x1="562.50" y1="82.50" x2="562.50" y2="84.00" stroke="#999" stroke-width="0.7" />
<text x="562.50" y="90.70" font-size="7.2" fill="#222" text-anchor="middle" >0</text>
<line x1="601.00" y1="82.50" x2="601.00" y2="84.00" stroke="#999" stroke-width="0.7" />
<text x="601.00" y="90.70" font-size="7.2" fill="#222" text-anchor="middle" >8</text>
<line x1="639.50" y1="82.50" x2="639.50" y2="84.00" stroke="#999" stroke-width="0.7" />
<text x="639.50" y="90.70" font-size="7.2" fill="#222" text-anchor="middle" >16</text>
<text x="579.70" y="99.80" font-size="12.4" fill="#0a0a0a" text-anchor="start" font-weight="700" stroke="#0a0a0a" stroke-width="0.3" stroke-linejoin="round" textLength="45.60" lengthAdjust="spacingAndGlyphs" >Time (s)</text>
<text x="544.60" y="87.50" font-size="12.6" fill="#0a0a0a" text-anchor="start" font-weight="700" stroke="#0a0a0a" stroke-width="0.3" stroke-linejoin="round" textLength="65.00" lengthAdjust="spacingAndGlyphs" transform="rotate(-90 544.60 87.50)" >Voltage (V)</text>
<path d="M400.90,202.10 V20.50 H644.50 V202.10 M400.90,199.90 H644.50" stroke="#404040" stroke-width="1.0" fill="none"/>
<line x1="534.20" y1="20.60" x2="645.00" y2="20.60" stroke="#111" stroke-width="1.2" />
<line x1="644.50" y1="20.50" x2="644.50" y2="103.90" stroke="#222" stroke-width="1.1" />
<line x1="396.70" y1="189.27" x2="400.90" y2="189.27" stroke="#404040" stroke-width="1.0" />
<text x="394.80" y="192.97" font-size="12.8" fill="#0a0a0a" text-anchor="end" >-0.8</text>
<line x1="398.70" y1="168.17" x2="400.90" y2="168.17" stroke="#404040" stroke-width="1.0" />
<line x1="396.70" y1="147.06" x2="400.90" y2="147.06" stroke="#404040" stroke-width="1.0" />
<text x="394.80" y="150.76" font-size="12.8" fill="#0a0a0a" text-anchor="end" >-0.4</text>
<line x1="398.70" y1="125.96" x2="400.90" y2="125.96" stroke="#404040" stroke-width="1.0" />
<line x1="396.70" y1="104.85" x2="400.90" y2="104.85" stroke="#404040" stroke-width="1.0" />
<text x="394.80" y="108.55" font-size="12.8" fill="#0a0a0a" text-anchor="end" >0.0</text>
<line x1="398.70" y1="83.74" x2="400.90" y2="83.74" stroke="#404040" stroke-width="1.0" />
<line x1="396.70" y1="62.64" x2="400.90" y2="62.64" stroke="#404040" stroke-width="1.0" />
<text x="394.80" y="66.34" font-size="12.8" fill="#0a0a0a" text-anchor="end" >0.4</text>
<line x1="398.70" y1="41.53" x2="400.90" y2="41.53" stroke="#404040" stroke-width="1.0" />
<line x1="396.70" y1="20.43" x2="400.90" y2="20.43" stroke="#404040" stroke-width="1.0" />
<text x="394.80" y="24.13" font-size="12.8" fill="#0a0a0a" text-anchor="end" >0.8</text>
<line x1="418.10" y1="199.90" x2="418.10" y2="204.00" stroke="#404040" stroke-width="1.0" />
<text x="418.10" y="217.30" font-size="12.8" fill="#0a0a0a" text-anchor="middle" >0</text>
<line x1="435.52" y1="199.90" x2="435.52" y2="202.10" stroke="#404040" stroke-width="1.0" />
<line x1="452.93" y1="199.90" x2="452.93" y2="204.00" stroke="#404040" stroke-width="1.0" />
<text x="452.93" y="217.30" font-size="12.8" fill="#0a0a0a" text-anchor="middle" >20</text>
<line x1="470.35" y1="199.90" x2="470.35" y2="202.10" stroke="#404040" stroke-width="1.0" />
<line x1="487.77" y1="199.90" x2="487.77" y2="204.00" stroke="#404040" stroke-width="1.0" />
<text x="487.77" y="217.30" font-size="12.8" fill="#0a0a0a" text-anchor="middle" >40</text>
<line x1="505.19" y1="199.90" x2="505.19" y2="202.10" stroke="#404040" stroke-width="1.0" />
<line x1="522.60" y1="199.90" x2="522.60" y2="204.00" stroke="#404040" stroke-width="1.0" />
<text x="522.60" y="217.30" font-size="12.8" fill="#0a0a0a" text-anchor="middle" >60</text>
<line x1="540.02" y1="199.90" x2="540.02" y2="202.10" stroke="#404040" stroke-width="1.0" />
<line x1="557.44" y1="199.90" x2="557.44" y2="204.00" stroke="#404040" stroke-width="1.0" />
<text x="557.44" y="217.30" font-size="12.8" fill="#0a0a0a" text-anchor="middle" >80</text>
<line x1="574.85" y1="199.90" x2="574.85" y2="202.10" stroke="#404040" stroke-width="1.0" />
<line x1="592.27" y1="199.90" x2="592.27" y2="204.00" stroke="#404040" stroke-width="1.0" />
<text x="592.27" y="217.30" font-size="12.8" fill="#0a0a0a" text-anchor="middle" >100</text>
<line x1="609.69" y1="199.90" x2="609.69" y2="202.10" stroke="#404040" stroke-width="1.0" />
<line x1="627.10" y1="199.90" x2="627.10" y2="204.00" stroke="#404040" stroke-width="1.0" />
<text x="627.10" y="217.30" font-size="12.8" fill="#0a0a0a" text-anchor="middle" >120</text>
<text x="490.20" y="237.00" font-size="18" fill="#0a0a0a" text-anchor="start" font-weight="700" stroke="#0a0a0a" stroke-width="0.4" stroke-linejoin="round" textLength="65.00" lengthAdjust="spacingAndGlyphs" >Time (s)</text>
<text x="362.70" y="159.90" font-size="18" fill="#0a0a0a" text-anchor="start" font-weight="700" stroke="#0a0a0a" stroke-width="0.4" stroke-linejoin="round" textLength="93.00" lengthAdjust="spacingAndGlyphs" transform="rotate(-90 362.70 159.90)" >Voltage (V)</text>
<text x="335.90" y="19.00" font-size="24" fill="#000" text-anchor="start" font-weight="700" stroke="#000" stroke-width="0.4" stroke-linejoin="round" textLength="31.40" lengthAdjust="spacingAndGlyphs" >(b)</text>
<text x="601.00" y="192.30" font-size="18" font-weight="700" fill="#0a0a0a" stroke="#0a0a0a" stroke-width="0.4">O<tspan font-size="9.2" dx="-0.2" stroke-width="0.5">2</tspan></text>
<g stroke="#000" stroke-width="1.0" fill="none">
<line x1="86.40" y1="362.95" x2="86.40" y2="338.90"/>
<line x1="86.75" y1="362.95" x2="86.75" y2="391.70"/>
<line x1="90.70" y1="362.95" x2="90.70" y2="341.40"/>
<line x1="91.05" y1="362.95" x2="91.05" y2="392.70"/>
<line x1="95.30" y1="362.95" x2="95.30" y2="341.10"/>
<line x1="95.65" y1="362.95" x2="95.65" y2="392.10"/>
<line x1="100.10" y1="362.95" x2="100.10" y2="340.40"/>
<line x1="100.45" y1="362.95" x2="100.45" y2="392.70"/>
<line x1="104.70" y1="362.95" x2="104.70" y2="343.20"/>
<line x1="105.05" y1="362.95" x2="105.05" y2="397.70"/>
<line x1="109.20" y1="362.95" x2="109.20" y2="338.30"/>
<line x1="109.55" y1="362.95" x2="109.55" y2="389.60"/>
<line x1="113.80" y1="362.95" x2="113.80" y2="343.10"/>
<line x1="114.15" y1="362.95" x2="114.15" y2="395.90"/>
<line x1="118.40" y1="362.95" x2="118.40" y2="343.90"/>
<line x1="118.75" y1="362.95" x2="118.75" y2="401.90"/>
<line x1="122.90" y1="362.95" x2="122.90" y2="340.40"/>
<line x1="123.25" y1="362.95" x2="123.25" y2="399.70"/>
<line x1="127.50" y1="362.95" x2="127.50" y2="340.40"/>
<line x1="127.85" y1="362.95" x2="127.85" y2="386.80"/>
<line x1="132.30" y1="362.95" x2="132.30" y2="339.70"/>
<line x1="132.65" y1="362.95" x2="132.65" y2="391.30"/>
<line x1="136.80" y1="362.95" x2="136.80" y2="341.40"/>
<line x1="137.15" y1="362.95" x2="137.15" y2="388.50"/>
<line x1="141.40" y1="362.95" x2="141.40" y2="345.60"/>
<line x1="141.75" y1="362.95" x2="141.75" y2="389.40"/>
<line x1="145.50" y1="362.95" x2="145.50" y2="338.90"/>
<line x1="145.85" y1="362.95" x2="145.85" y2="388.50"/>
<line x1="150.20" y1="362.95" x2="150.20" y2="349.80"/>
<line x1="150.55" y1="362.95" x2="150.55" y2="390.00"/>
<line x1="154.90" y1="362.95" x2="154.90" y2="343.10"/>
<line x1="155.25" y1="362.95" x2="155.25" y2="391.30"/>
<line x1="157.60" y1="362.95" x2="157.60" y2="336.40"/>
<line x1="157.95" y1="362.95" x2="157.95" y2="393.20"/>
<line x1="161.30" y1="362.95" x2="161.30" y2="341.20"/>
<line x1="161.65" y1="362.95" x2="161.65" y2="393.20"/>
<line x1="165.30" y1="362.95" x2="165.30" y2="339.90"/>
<line x1="165.65" y1="362.95" x2="165.65" y2="390.00"/>
<line x1="169.10" y1="362.95" x2="169.10" y2="342.50"/>
<line x1="169.45" y1="362.95" x2="169.45" y2="390.80"/>
<line x1="172.50" y1="362.95" x2="172.50" y2="341.20"/>
<line x1="172.85" y1="362.95" x2="172.85" y2="396.40"/>
<line x1="176.00" y1="362.95" x2="176.00" y2="339.30"/>
<line x1="176.35" y1="362.95" x2="176.35" y2="399.90"/>
<line x1="179.50" y1="362.95" x2="179.50" y2="341.20"/>
<line x1="179.85" y1="362.95" x2="179.85" y2="392.40"/>
<line x1="183.20" y1="362.95" x2="183.20" y2="338.00"/>
<line x1="183.55" y1="362.95" x2="183.55" y2="393.20"/>
<line x1="186.90" y1="362.95" x2="186.90" y2="341.20"/>
<line x1="187.25" y1="362.95" x2="187.25" y2="391.00"/>
<line x1="190.40" y1="362.95" x2="190.40" y2="339.30"/>
<line x1="190.75" y1="362.95" x2="190.75" y2="392.50"/>
<line x1="194.65" y1="362.95" x2="194.65" y2="389.80"/>
<line x1="198.05" y1="362.95" x2="198.05" y2="389.80"/>
<line x1="201.55" y1="362.95" x2="201.55" y2="391.70"/>
<line x1="205.25" y1="362.95" x2="205.25" y2="388.90"/>
<line x1="208.55" y1="362.95" x2="208.55" y2="391.70"/>
<line x1="212.25" y1="362.95" x2="212.25" y2="391.70"/>
<line x1="215.95" y1="362.95" x2="215.95" y2="386.10"/>
<line x1="219.35" y1="362.95" x2="219.35" y2="391.70"/>
<line x1="223.05" y1="362.95" x2="223.05" y2="389.80"/>
<line x1="226.55" y1="362.95" x2="226.55" y2="392.60"/>
<line x1="230.25" y1="362.95" x2="230.25" y2="400.00"/>
<line x1="233.55" y1="362.95" x2="233.55" y2="388.90"/>
<line x1="237.25" y1="362.95" x2="237.25" y2="398.10"/>
<line x1="240.65" y1="362.95" x2="240.65" y2="389.80"/>
<line x1="244.15" y1="362.95" x2="244.15" y2="391.10"/>
<line x1="247.85" y1="362.95" x2="247.85" y2="396.30"/>
<line x1="251.15" y1="362.95" x2="251.15" y2="389.80"/>
<line x1="254.85" y1="362.95" x2="254.85" y2="397.20"/>
<line x1="258.55" y1="362.95" x2="258.55" y2="392.60"/>
<line x1="261.95" y1="362.95" x2="261.95" y2="396.30"/>
<line x1="265.65" y1="362.95" x2="265.65" y2="397.20"/>
<line x1="269.15" y1="362.95" x2="269.15" y2="391.70"/>
<line x1="272.85" y1="362.95" x2="272.85" y2="392.60"/>
<line x1="276.55" y1="362.95" x2="276.55" y2="392.60"/>
<line x1="279.85" y1="362.95" x2="279.85" y2="389.80"/>
<line x1="283.55" y1="362.95" x2="283.55" y2="385.60"/>
<line x1="287.25" y1="362.95" x2="287.25" y2="388.50"/>
</g>
<polygon points="80.9,361.57 81.7,361.17 82.5,360.12 83.3,360.14 84.1,361.59 84.9,361.46 85.7,359.75 86.5,361.32 87.3,360.78 88.1,361.29 88.9,361.26 89.7,361.64 90.5,361.44 91.3,361.24 92.1,361.20 92.9,360.88 93.7,361.56 94.5,361.52 95.3,361.65 96.1,360.73 96.9,361.54 97.7,361.45 98.5,361.18 99.3,361.28 100.1,361.62 100.9,361.19 101.7,361.25 102.5,361.21 103.3,361.44 104.1,360.28 104.9,359.41 105.7,361.48 106.5,361.57 107.3,360.69 108.1,361.15 108.9,361.43 109.7,361.45 110.5,361.27 111.3,361.37 112.1,359.72 112.9,361.34 113.7,361.58 114.5,361.50 115.3,361.19 116.1,359.63 116.9,361.47 117.7,361.53 118.5,361.24 119.3,360.80 120.1,360.72 120.9,361.61 121.7,361.65 122.5,361.44 123.3,361.44 124.1,360.65 124.9,361.20 125.7,361.42 126.5,361.16 127.3,361.62 128.1,361.17 128.9,359.85 129.7,361.61 130.5,361.44 131.3,361.59 132.1,361.40 132.9,361.52 133.7,361.59 134.5,361.61 135.3,359.31 136.1,361.60 136.9,359.82 137.7,361.46 138.5,361.30 139.3,361.21 140.1,361.57 140.9,360.56 141.7,359.97 142.5,361.25 143.3,361.52 144.1,361.14 144.9,360.18 145.7,361.58 146.5,360.56 147.3,360.85 148.1,361.31 148.9,361.45 149.7,361.54 150.5,361.47 151.3,361.47 152.1,361.64 152.9,360.31 153.7,361.39 154.5,361.26 155.3,359.74 156.1,361.18 156.9,361.28 157.7,360.70 158.5,361.16 159.3,359.73 160.1,361.43 160.9,361.50 161.7,361.18 162.5,361.61 163.3,361.47 164.1,361.62 164.9,360.23 165.7,361.55 166.5,361.55 167.3,361.61 168.1,361.58 168.9,360.68 169.7,361.33 170.5,360.37 171.3,360.48 172.1,360.14 172.9,361.20 173.7,361.61 174.5,361.36 175.3,360.06 176.1,361.26 176.9,361.42 177.7,361.58 178.5,361.26 179.3,361.48 180.1,361.37 180.9,361.58 181.7,361.57 182.5,361.40 183.3,361.42 184.1,361.62 184.9,361.62 185.7,360.67 186.5,361.53 187.3,360.36 188.1,361.22 188.9,361.51 189.7,361.57 190.5,359.59 191.3,359.53 192.1,359.55 192.9,361.24 193.7,361.60 194.5,360.74 195.3,361.31 196.1,361.60 196.9,361.21 197.7,360.08 198.5,361.59 199.3,361.48 200.1,360.76 200.9,361.40 201.7,361.64 202.5,361.38 203.3,361.29 204.1,361.16 204.9,360.36 205.7,361.52 206.5,361.59 207.3,361.63 208.1,361.38 208.9,361.22 209.7,361.53 210.5,361.29 211.3,361.31 212.1,359.72 212.9,361.29 213.7,361.19 214.5,359.60 215.3,361.33 216.1,361.63 216.9,361.38 217.7,361.25 218.5,361.15 219.3,359.89 220.1,361.39 220.9,360.32 221.7,361.29 222.5,361.60 223.3,361.25 224.1,360.65 224.9,361.24 225.7,361.19 226.5,361.46 227.3,361.46 228.1,361.27 228.9,361.42 229.7,361.20 230.5,361.24 231.3,361.63 232.1,361.11 232.9,361.60 233.7,361.62 234.5,361.62 235.3,361.15 236.1,361.39 236.9,361.49 237.7,360.79 238.5,360.84 239.3,361.46 240.1,359.63 240.9,361.62 241.7,359.78 242.5,361.25 243.3,360.56 244.1,360.43 244.9,361.37 245.7,359.64 246.5,359.98 247.3,359.63 248.1,361.57 248.9,361.50 249.7,361.37 250.5,361.23 251.3,361.45 252.1,360.61 252.9,359.78 253.7,361.15 254.5,361.27 255.3,361.22 256.1,361.51 256.9,361.63 257.7,360.51 258.5,359.95 259.3,361.37 260.1,360.33 260.9,361.58 261.7,359.44 262.5,361.23 263.3,361.21 264.1,360.52 264.9,361.47 265.7,361.53 266.5,361.64 267.3,359.86 268.1,361.63 268.9,360.42 269.7,360.10 270.5,361.63 271.3,361.48 272.1,361.64 272.9,361.61 273.7,361.18 274.5,361.16 275.3,361.40 276.1,361.33 276.9,361.26 277.7,361.57 278.5,361.58 279.3,361.28 280.1,361.43 280.9,361.50 281.7,361.59 282.5,361.53 283.3,361.20 284.1,361.26 284.9,359.93 285.7,361.48 286.5,361.43 287.3,361.44 288.1,361.54 288.9,360.10 288.9,364.49 288.1,364.63 287.3,364.75 286.5,364.69 285.7,364.75 284.9,364.65 284.1,364.85 283.3,364.79 282.5,365.53 281.7,366.61 280.9,364.93 280.1,364.86 279.3,364.87 278.5,364.86 277.7,364.93 276.9,364.50 276.1,364.55 275.3,364.84 274.5,364.95 273.7,365.28 272.9,364.57 272.1,364.92 271.3,364.86 270.5,364.76 269.7,364.48 268.9,364.74 268.1,366.43 267.3,365.32 266.5,364.92 265.7,364.89 264.9,364.80 264.1,364.68 263.3,364.51 262.5,365.07 261.7,364.53 260.9,364.74 260.1,365.97 259.3,364.50 258.5,364.96 257.7,364.78 256.9,364.75 256.1,366.75 255.3,365.03 254.5,365.67 253.7,365.62 252.9,366.64 252.1,364.72 251.3,364.47 250.5,364.53 249.7,364.53 248.9,364.57 248.1,366.15 247.3,364.78 246.5,364.50 245.7,366.43 244.9,364.85 244.1,366.73 243.3,364.89 242.5,364.75 241.7,366.03 240.9,364.61 240.1,364.85 239.3,364.68 238.5,365.95 237.7,364.66 236.9,364.58 236.1,364.98 235.3,365.53 234.5,364.80 233.7,364.79 232.9,364.49 232.1,364.51 231.3,364.79 230.5,364.79 229.7,364.67 228.9,364.87 228.1,364.46 227.3,364.71 226.5,366.29 225.7,364.55 224.9,364.63 224.1,364.81 223.3,365.64 222.5,365.61 221.7,366.26 220.9,364.82 220.1,364.57 219.3,364.83 218.5,364.80 217.7,365.50 216.9,364.53 216.1,364.64 215.3,364.86 214.5,364.57 213.7,364.71 212.9,365.00 212.1,364.76 211.3,364.61 210.5,364.65 209.7,364.76 208.9,364.71 208.1,366.10 207.3,364.80 206.5,364.87 205.7,365.15 204.9,364.95 204.1,364.64 203.3,364.65 202.5,364.80 201.7,364.79 200.9,364.65 200.1,364.67 199.3,364.56 198.5,364.63 197.7,364.79 196.9,365.37 196.1,364.46 195.3,365.33 194.5,364.94 193.7,364.62 192.9,364.82 192.1,366.29 191.3,364.88 190.5,364.89 189.7,364.79 188.9,364.62 188.1,364.58 187.3,366.67 186.5,364.55 185.7,365.63 184.9,364.73 184.1,364.77 183.3,366.08 182.5,364.77 181.7,366.43 180.9,364.54 180.1,364.54 179.3,364.46 178.5,366.14 177.7,364.45 176.9,364.59 176.1,364.60 175.3,364.82 174.5,364.73 173.7,364.86 172.9,364.50 172.1,364.94 171.3,366.60 170.5,364.66 169.7,364.65 168.9,364.91 168.1,364.54 167.3,364.85 166.5,364.82 165.7,364.75 164.9,365.33 164.1,365.21 163.3,364.84 162.5,364.54 161.7,364.62 160.9,364.60 160.1,364.87 159.3,364.52 158.5,365.16 157.7,364.65 156.9,364.70 156.1,364.79 155.3,364.63 154.5,364.89 153.7,366.05 152.9,365.72 152.1,364.97 151.3,364.45 150.5,364.68 149.7,365.24 148.9,365.55 148.1,366.34 147.3,364.85 146.5,365.93 145.7,364.89 144.9,364.73 144.1,364.51 143.3,364.55 142.5,364.51 141.7,365.91 140.9,364.86 140.1,364.82 139.3,364.73 138.5,364.66 137.7,365.06 136.9,365.31 136.1,366.79 135.3,364.83 134.5,364.67 133.7,365.52 132.9,365.84 132.1,364.88 131.3,364.54 130.5,364.71 129.7,364.78 128.9,364.46 128.1,365.38 127.3,365.93 126.5,364.93 125.7,364.94 124.9,364.62 124.1,364.90 123.3,364.62 122.5,364.59 121.7,364.87 120.9,365.92 120.1,364.79 119.3,364.70 118.5,364.80 117.7,364.47 116.9,364.73 116.1,364.61 115.3,364.53 114.5,364.54 113.7,364.46 112.9,365.41 112.1,364.72 111.3,364.50 110.5,364.49 109.7,364.53 108.9,364.51 108.1,364.48 107.3,364.87 106.5,364.78 105.7,364.86 104.9,365.75 104.1,364.57 103.3,365.96 102.5,364.72 101.7,364.58 100.9,365.92 100.1,364.80 99.3,364.86 98.5,364.66 97.7,365.00 96.9,366.30 96.1,366.34 95.3,364.95 94.5,364.67 93.7,364.87 92.9,364.64 92.1,365.20 91.3,364.76 90.5,366.47 89.7,364.79 88.9,365.44 88.1,364.59 87.3,364.85 86.5,364.50 85.7,364.49 84.9,364.78 84.1,366.25 83.3,366.38 82.5,366.48 81.7,364.55 80.9,364.63" fill="#000"/>
<ellipse cx="81.90" cy="363.05" rx="1.4" ry="3.2" fill="#000"/>
<rect x="193.90" y="278.50" width="113.10" height="84.40" fill="#fff" stroke="none"/>
<rect x="193.90" y="362.70" width="95.10" height="2.35" fill="#000"/>
<line x1="193.90" y1="278.50" x2="193.90" y2="362.90" stroke="#222" stroke-width="1.1" />
<line x1="193.90" y1="362.40" x2="307.00" y2="362.40" stroke="#404040" stroke-width="1.0" />
<rect x="223.50" y="284.50" width="79.00" height="57.00" fill="none" stroke="#9c9c9c" stroke-width="1"/>
<path d="M223.50,311.50 L230.65,311.50 L231.15,305.13 L231.95,320.55 L232.45,311.50 L241.61,311.50 L242.11,305.13 L242.91,320.55 L243.41,311.50 L252.13,311.50 L252.63,305.13 L253.43,320.55 L253.93,311.50 L262.30,311.50 L262.80,305.13 L263.60,320.55 L264.10,311.50 L272.28,311.50 L272.78,305.13 L273.58,320.55 L274.08,311.50 L282.25,311.50 L282.75,305.13 L283.55,320.55 L284.05,311.50 L291.83,311.50 L292.33,305.13 L293.13,320.55 L293.63,311.50 L302.50,311.50" stroke="#505050" stroke-width="0.55" fill="none"/>
<line x1="223.50" y1="311.50" x2="302.50" y2="311.50" stroke="#2a2a2a" stroke-width="1.0" stroke-dasharray="3.2 0.5 1.4 0.4 2.3 0.6"/>
<line x1="222.00" y1="284.68" x2="223.50" y2="284.68" stroke="#999" stroke-width="0.7" />
<text x="221.80" y="287.28" font-size="7.3" fill="#222" text-anchor="end" >0.8</text>
<line x1="222.00" y1="311.50" x2="223.50" y2="311.50" stroke="#999" stroke-width="0.7" />
<text x="221.80" y="314.10" font-size="7.3" fill="#222" text-anchor="end" >0.0</text>
<line x1="222.00" y1="338.32" x2="223.50" y2="338.32" stroke="#999" stroke-width="0.7" />
<text x="221.80" y="340.92" font-size="7.3" fill="#222" text-anchor="end" >-0.8</text>
<line x1="223.50" y1="341.50" x2="223.50" y2="343.00" stroke="#999" stroke-width="0.7" />
<text x="223.50" y="349.70" font-size="7.2" fill="#222" text-anchor="middle" >0</text>
<line x1="263.00" y1="341.50" x2="263.00" y2="343.00" stroke="#999" stroke-width="0.7" />
<text x="263.00" y="349.70" font-size="7.2" fill="#222" text-anchor="middle" >8</text>
<line x1="302.50" y1="341.50" x2="302.50" y2="343.00" stroke="#999" stroke-width="0.7" />
<text x="302.50" y="349.70" font-size="7.2" fill="#222" text-anchor="middle" >16</text>
<text x="241.70" y="358.80" font-size="12.4" fill="#0a0a0a" text-anchor="start" font-weight="700" stroke="#0a0a0a" stroke-width="0.3" stroke-linejoin="round" textLength="45.60" lengthAdjust="spacingAndGlyphs" >Time (s)</text>
<text x="205.20" y="346.00" font-size="12.6" fill="#0a0a0a" text-anchor="start" font-weight="700" stroke="#0a0a0a" stroke-width="0.3" stroke-linejoin="round" textLength="65.00" lengthAdjust="spacingAndGlyphs" transform="rotate(-90 205.20 346.00)" >Voltage (V)</text>
<path d="M63.50,460.10 V278.50 H307.00 V460.10 M63.50,457.90 H307.00" stroke="#404040" stroke-width="1.0" fill="none"/>
<line x1="193.40" y1="278.60" x2="307.50" y2="278.60" stroke="#111" stroke-width="1.2" />
<line x1="307.00" y1="278.50" x2="307.00" y2="362.90" stroke="#222" stroke-width="1.1" />
<line x1="59.30" y1="447.37" x2="63.50" y2="447.37" stroke="#404040" stroke-width="1.0" />
<text x="56.60" y="451.07" font-size="12.8" fill="#0a0a0a" text-anchor="end" >-0.8</text>
<line x1="61.30" y1="426.27" x2="63.50" y2="426.27" stroke="#404040" stroke-width="1.0" />
<line x1="59.30" y1="405.16" x2="63.50" y2="405.16" stroke="#404040" stroke-width="1.0" />
<text x="56.60" y="408.86" font-size="12.8" fill="#0a0a0a" text-anchor="end" >-0.4</text>
<line x1="61.30" y1="384.06" x2="63.50" y2="384.06" stroke="#404040" stroke-width="1.0" />
<line x1="59.30" y1="362.95" x2="63.50" y2="362.95" stroke="#404040" stroke-width="1.0" />
<text x="56.60" y="366.65" font-size="12.8" fill="#0a0a0a" text-anchor="end" >0.0</text>
<line x1="61.30" y1="341.84" x2="63.50" y2="341.84" stroke="#404040" stroke-width="1.0" />
<line x1="59.30" y1="320.74" x2="63.50" y2="320.74" stroke="#404040" stroke-width="1.0" />
<text x="56.60" y="324.44" font-size="12.8" fill="#0a0a0a" text-anchor="end" >0.4</text>
<line x1="61.30" y1="299.63" x2="63.50" y2="299.63" stroke="#404040" stroke-width="1.0" />
<line x1="59.30" y1="278.53" x2="63.50" y2="278.53" stroke="#404040" stroke-width="1.0" />
<text x="56.60" y="282.23" font-size="12.8" fill="#0a0a0a" text-anchor="end" >0.8</text>
<line x1="80.70" y1="457.90" x2="80.70" y2="462.00" stroke="#404040" stroke-width="1.0" />
<text x="80.70" y="475.30" font-size="12.8" fill="#0a0a0a" text-anchor="middle" >0</text>
<line x1="98.12" y1="457.90" x2="98.12" y2="460.10" stroke="#404040" stroke-width="1.0" />
<line x1="115.53" y1="457.90" x2="115.53" y2="462.00" stroke="#404040" stroke-width="1.0" />
<text x="115.53" y="475.30" font-size="12.8" fill="#0a0a0a" text-anchor="middle" >20</text>
<line x1="132.95" y1="457.90" x2="132.95" y2="460.10" stroke="#404040" stroke-width="1.0" />
<line x1="150.37" y1="457.90" x2="150.37" y2="462.00" stroke="#404040" stroke-width="1.0" />
<text x="150.37" y="475.30" font-size="12.8" fill="#0a0a0a" text-anchor="middle" >40</text>
<line x1="167.79" y1="457.90" x2="167.79" y2="460.10" stroke="#404040" stroke-width="1.0" />
<line x1="185.20" y1="457.90" x2="185.20" y2="462.00" stroke="#404040" stroke-width="1.0" />
<text x="185.20" y="475.30" font-size="12.8" fill="#0a0a0a" text-anchor="middle" >60</text>
<line x1="202.62" y1="457.90" x2="202.62" y2="460.10" stroke="#404040" stroke-width="1.0" />
<line x1="220.04" y1="457.90" x2="220.04" y2="462.00" stroke="#404040" stroke-width="1.0" />
<text x="220.04" y="475.30" font-size="12.8" fill="#0a0a0a" text-anchor="middle" >80</text>
<line x1="237.45" y1="457.90" x2="237.45" y2="460.10" stroke="#404040" stroke-width="1.0" />
<line x1="254.87" y1="457.90" x2="254.87" y2="462.00" stroke="#404040" stroke-width="1.0" />
<text x="254.87" y="475.30" font-size="12.8" fill="#0a0a0a" text-anchor="middle" >100</text>
<line x1="272.29" y1="457.90" x2="272.29" y2="460.10" stroke="#404040" stroke-width="1.0" />
<line x1="289.70" y1="457.90" x2="289.70" y2="462.00" stroke="#404040" stroke-width="1.0" />
<text x="289.70" y="475.30" font-size="12.8" fill="#0a0a0a" text-anchor="middle" >120</text>
<text x="152.75" y="495.00" font-size="18" fill="#0a0a0a" text-anchor="start" font-weight="700" stroke="#0a0a0a" stroke-width="0.4" stroke-linejoin="round" textLength="65.00" lengthAdjust="spacingAndGlyphs" >Time (s)</text>
<text x="26.30" y="420.30" font-size="18" fill="#0a0a0a" text-anchor="start" font-weight="700" stroke="#0a0a0a" stroke-width="0.4" stroke-linejoin="round" textLength="93.00" lengthAdjust="spacingAndGlyphs" transform="rotate(-90 26.30 420.30)" >Voltage (V)</text>
<text x="4.60" y="275.60" font-size="24" fill="#000" text-anchor="start" font-weight="700" stroke="#000" stroke-width="0.4" stroke-linejoin="round" textLength="26.60" lengthAdjust="spacingAndGlyphs" >(c)</text>
<text x="169.00" y="446.80" font-size="18" font-weight="700" fill="#0a0a0a" stroke="#0a0a0a" stroke-width="0.4" textLength="126.60" lengthAdjust="spacingAndGlyphs">H<tspan font-size="9.6" stroke-width="0.5">2</tspan>S (1000 ppm)</text>
<g stroke="#000" stroke-width="1.0" fill="none">
<line x1="421.40" y1="362.95" x2="421.40" y2="331.00"/>
<line x1="421.75" y1="362.95" x2="421.75" y2="395.40"/>
<line x1="425.30" y1="362.95" x2="425.30" y2="335.50"/>
<line x1="425.65" y1="362.95" x2="425.65" y2="393.00"/>
<line x1="429.60" y1="362.95" x2="429.60" y2="325.10"/>
<line x1="429.95" y1="362.95" x2="429.95" y2="396.30"/>
<line x1="434.20" y1="362.95" x2="434.20" y2="329.30"/>
<line x1="434.55" y1="362.95" x2="434.55" y2="390.70"/>
<line x1="438.80" y1="362.95" x2="438.80" y2="331.30"/>
<line x1="439.15" y1="362.95" x2="439.15" y2="392.60"/>
<line x1="443.50" y1="362.95" x2="443.50" y2="333.50"/>
<line x1="443.85" y1="362.95" x2="443.85" y2="395.40"/>
<line x1="448.10" y1="362.95" x2="448.10" y2="331.30"/>
<line x1="448.45" y1="362.95" x2="448.45" y2="393.00"/>
<line x1="452.70" y1="362.95" x2="452.70" y2="325.10"/>
<line x1="453.05" y1="362.95" x2="453.05" y2="395.40"/>
<line x1="457.30" y1="362.95" x2="457.30" y2="325.40"/>
<line x1="457.65" y1="362.95" x2="457.65" y2="395.40"/>
<line x1="462.00" y1="362.95" x2="462.00" y2="332.40"/>
<line x1="462.35" y1="362.95" x2="462.35" y2="382.40"/>
<line x1="466.60" y1="362.95" x2="466.60" y2="335.50"/>
<line x1="466.95" y1="362.95" x2="466.95" y2="396.30"/>
<line x1="471.20" y1="362.95" x2="471.20" y2="328.20"/>
<line x1="471.55" y1="362.95" x2="471.55" y2="394.40"/>
<line x1="475.80" y1="362.95" x2="475.80" y2="327.50"/>
<line x1="476.15" y1="362.95" x2="476.15" y2="394.10"/>
<line x1="480.40" y1="362.95" x2="480.40" y2="328.20"/>
<line x1="480.75" y1="362.95" x2="480.75" y2="396.30"/>
<line x1="485.10" y1="362.95" x2="485.10" y2="329.30"/>
<line x1="485.45" y1="362.95" x2="485.45" y2="395.90"/>
<line x1="489.70" y1="362.95" x2="489.70" y2="329.30"/>
<line x1="490.05" y1="362.95" x2="490.05" y2="394.40"/>
<line x1="494.40" y1="362.95" x2="494.40" y2="327.10"/>
<line x1="494.75" y1="362.95" x2="494.75" y2="394.40"/>
<line x1="499.00" y1="362.95" x2="499.00" y2="327.50"/>
<line x1="499.35" y1="362.95" x2="499.35" y2="395.40"/>
<line x1="503.70" y1="362.95" x2="503.70" y2="326.10"/>
<line x1="504.05" y1="362.95" x2="504.05" y2="393.50"/>
<line x1="508.30" y1="362.95" x2="508.30" y2="326.50"/>
<line x1="508.65" y1="362.95" x2="508.65" y2="394.10"/>
<line x1="512.90" y1="362.95" x2="512.90" y2="329.60"/>
<line x1="513.25" y1="362.95" x2="513.25" y2="390.40"/>
<line x1="517.50" y1="362.95" x2="517.50" y2="326.50"/>
<line x1="517.85" y1="362.95" x2="517.85" y2="394.10"/>
<line x1="522.00" y1="362.95" x2="522.00" y2="331.70"/>
<line x1="522.35" y1="362.95" x2="522.35" y2="394.40"/>
<line x1="526.70" y1="362.95" x2="526.70" y2="325.10"/>
<line x1="527.05" y1="362.95" x2="527.05" y2="391.20"/>
<line x1="531.40" y1="362.95" x2="531.40" y2="326.50"/>
<line x1="531.75" y1="362.95" x2="531.75" y2="395.40"/>
<line x1="536.55" y1="362.95" x2="536.55" y2="393.50"/>
<line x1="541.15" y1="362.95" x2="541.15" y2="391.70"/>
<line x1="545.75" y1="362.95" x2="545.75" y2="394.40"/>
<line x1="550.45" y1="362.95" x2="550.45" y2="393.50"/>
<line x1="555.05" y1="362.95" x2="555.05" y2="393.00"/>
<line x1="559.65" y1="362.95" x2="559.65" y2="395.90"/>
<line x1="564.35" y1="362.95" x2="564.35" y2="394.10"/>
<line x1="568.95" y1="362.95" x2="568.95" y2="391.70"/>
<line x1="573.55" y1="362.95" x2="573.55" y2="394.40"/>
<line x1="578.25" y1="362.95" x2="578.25" y2="387.00"/>
<line x1="582.85" y1="362.95" x2="582.85" y2="388.00"/>
<line x1="587.45" y1="362.95" x2="587.45" y2="395.40"/>
<line x1="592.05" y1="362.95" x2="592.05" y2="389.80"/>
<line x1="596.75" y1="362.95" x2="596.75" y2="390.40"/>
<line x1="601.75" y1="362.95" x2="601.75" y2="396.30"/>
<line x1="606.35" y1="362.95" x2="606.35" y2="391.70"/>
<line x1="611.15" y1="362.95" x2="611.15" y2="391.70"/>
<line x1="615.75" y1="362.95" x2="615.75" y2="394.40"/>
<line x1="620.25" y1="362.95" x2="620.25" y2="396.30"/>
<line x1="625.05" y1="362.95" x2="625.05" y2="394.40"/>
<line x1="629.65" y1="362.95" x2="629.65" y2="389.80"/>
</g>
<polygon points="419.2,361.10 420.1,361.29 420.9,361.01 421.7,361.12 422.5,361.01 423.3,361.05 424.1,361.02 424.9,361.19 425.7,361.15 426.5,361.10 427.3,361.01 428.1,361.19 428.9,361.15 429.7,361.09 430.5,361.03 431.3,361.26 432.1,360.73 432.9,361.11 433.7,361.14 434.5,361.06 435.3,361.09 436.1,361.13 436.9,361.26 437.7,361.08 438.5,361.19 439.3,361.21 440.1,361.17 440.9,361.18 441.7,361.03 442.5,361.07 443.3,361.16 444.1,361.22 444.9,361.21 445.7,361.29 446.5,361.02 447.3,361.07 448.1,361.27 448.9,361.11 449.7,361.02 450.5,361.06 451.3,361.14 452.1,360.85 452.9,361.04 453.7,361.13 454.5,361.05 455.3,361.15 456.1,361.05 456.9,361.09 457.7,361.28 458.5,360.56 459.3,361.06 460.1,361.20 460.9,361.22 461.7,361.06 462.5,361.23 463.3,361.13 464.1,361.05 464.9,361.29 465.7,361.08 466.5,361.12 467.3,361.06 468.1,361.28 468.9,361.10 469.7,361.24 470.5,361.08 471.3,361.09 472.1,361.09 472.9,361.02 473.7,361.30 474.5,361.22 475.3,360.83 476.1,361.03 476.9,361.27 477.7,361.00 478.5,361.05 479.3,361.15 480.1,361.09 480.9,361.08 481.7,361.26 482.5,361.19 483.3,361.16 484.1,361.28 484.9,361.15 485.7,361.03 486.5,361.26 487.3,361.11 488.1,361.28 488.9,361.09 489.7,361.16 490.5,361.28 491.3,361.18 492.1,360.10 492.9,361.29 493.7,361.23 494.5,361.02 495.3,361.27 496.1,361.06 496.9,361.06 497.7,361.13 498.5,361.07 499.3,360.47 500.1,361.06 500.9,361.24 501.7,360.41 502.5,361.05 503.3,361.07 504.1,360.96 504.9,361.12 505.7,361.12 506.5,361.06 507.3,361.29 508.1,361.04 508.9,361.09 509.7,361.20 510.5,361.10 511.3,361.00 512.1,361.18 512.9,361.02 513.7,361.03 514.5,361.05 515.3,361.14 516.1,361.11 516.9,361.03 517.7,360.95 518.5,361.00 519.3,361.09 520.1,361.22 520.9,361.22 521.7,361.10 522.5,360.92 523.3,361.27 524.1,361.22 524.9,361.21 525.7,361.08 526.5,361.05 527.3,361.04 528.1,361.30 528.9,361.10 529.7,361.26 530.5,361.10 531.3,361.04 532.1,361.08 532.9,361.19 533.7,361.06 534.5,361.23 535.2,361.19 536.0,361.28 536.8,361.29 537.6,361.09 538.4,361.25 539.2,361.28 540.0,361.13 540.8,361.13 541.6,361.27 542.4,361.25 543.2,361.02 544.0,361.20 544.8,361.26 545.6,361.30 546.4,361.08 547.2,361.12 548.0,361.02 548.8,361.03 549.6,361.03 550.4,361.26 551.2,361.02 552.0,361.23 552.8,361.15 553.6,361.05 554.4,361.23 555.2,360.82 556.0,361.05 556.8,361.16 557.6,361.23 558.4,361.26 559.2,361.28 560.0,361.16 560.8,361.04 561.6,361.18 562.4,361.29 563.2,361.04 564.0,361.06 564.8,361.23 565.6,361.03 566.4,361.13 567.2,361.23 568.0,361.28 568.8,360.62 569.6,361.09 570.4,361.06 571.2,361.24 572.0,361.23 572.8,361.07 573.6,361.22 574.4,361.17 575.2,361.13 576.0,360.57 576.8,361.19 577.6,361.11 578.4,361.24 579.2,361.05 580.0,360.59 580.8,361.05 581.6,361.30 582.4,361.00 583.2,361.01 584.0,361.20 584.8,361.28 585.6,361.09 586.4,361.20 587.2,361.13 588.0,361.18 588.8,361.06 589.6,361.09 590.4,361.27 591.2,361.24 592.0,361.23 592.8,361.08 593.6,361.21 594.4,361.03 595.2,361.22 596.0,361.05 596.8,361.21 597.6,361.27 598.4,361.02 599.2,361.26 600.0,361.09 600.8,361.28 601.6,361.10 602.4,361.09 603.2,361.02 604.0,361.16 604.8,361.03 605.6,361.21 606.4,361.17 607.2,361.28 608.0,361.27 608.8,361.05 609.6,361.17 610.4,361.01 611.2,361.03 612.0,361.12 612.8,361.08 613.6,361.27 614.4,361.22 615.2,361.04 616.0,361.20 616.8,360.28 617.6,361.03 618.4,361.05 619.2,361.19 620.0,361.03 620.8,361.07 621.6,361.00 622.4,361.22 623.2,361.26 624.0,361.20 624.8,361.26 625.6,361.10 626.4,361.16 627.2,361.04 628.0,360.47 628.8,361.28 629.6,361.16 630.4,361.21 631.2,361.03 632.0,361.13 632.0,364.83 631.2,365.02 630.4,364.99 629.6,364.92 628.8,364.82 628.0,364.90 627.2,364.86 626.4,364.90 625.6,364.81 624.8,365.08 624.0,365.05 623.2,364.96 622.4,365.00 621.6,365.02 620.8,364.87 620.0,364.92 619.2,364.91 618.4,364.88 617.6,365.09 616.8,364.97 616.0,364.86 615.2,364.90 614.4,364.94 613.6,365.04 612.8,364.84 612.0,364.89 611.2,365.07 610.4,364.84 609.6,364.90 608.8,364.85 608.0,364.82 607.2,364.89 606.4,365.79 605.6,364.82 604.8,364.84 604.0,365.97 603.2,365.08 602.4,365.03 601.6,364.87 600.8,364.92 600.0,364.96 599.2,364.95 598.4,365.06 597.6,364.81 596.8,365.50 596.0,365.01 595.2,364.85 594.4,364.86 593.6,364.99 592.8,364.81 592.0,364.88 591.2,364.97 590.4,365.00 589.6,365.04 588.8,364.83 588.0,365.02 587.2,364.82 586.4,364.95 585.6,364.88 584.8,365.45 584.0,364.93 583.2,364.84 582.4,364.81 581.6,364.87 580.8,364.82 580.0,364.86 579.2,364.98 578.4,365.03 577.6,364.99 576.8,365.09 576.0,364.94 575.2,364.91 574.4,364.82 573.6,364.81 572.8,364.84 572.0,365.02 571.2,364.92 570.4,364.87 569.6,364.99 568.8,365.04 568.0,365.02 567.2,364.91 566.4,364.85 565.6,365.99 564.8,365.00 564.0,365.00 563.2,364.93 562.4,364.89 561.6,364.82 560.8,365.09 560.0,364.92 559.2,364.87 558.4,364.96 557.6,364.84 556.8,364.97 556.0,364.80 555.2,365.00 554.4,365.09 553.6,364.86 552.8,365.10 552.0,364.94 551.2,365.87 550.4,364.86 549.6,365.26 548.8,364.85 548.0,365.02 547.2,365.00 546.4,364.96 545.6,365.47 544.8,365.10 544.0,364.86 543.2,365.39 542.4,365.32 541.6,365.08 540.8,365.06 540.0,364.82 539.2,364.91 538.4,364.87 537.6,364.83 536.8,364.93 536.0,365.00 535.2,364.99 534.5,364.86 533.7,364.89 532.9,364.96 532.1,364.84 531.3,364.84 530.5,364.99 529.7,364.83 528.9,364.98 528.1,364.86 527.3,365.04 526.5,364.81 525.7,364.83 524.9,364.92 524.1,365.03 523.3,364.95 522.5,364.82 521.7,364.98 520.9,365.09 520.1,364.81 519.3,365.02 518.5,364.85 517.7,365.07 516.9,365.22 516.1,364.96 515.3,365.09 514.5,364.89 513.7,365.04 512.9,364.90 512.1,364.81 511.3,365.03 510.5,365.08 509.7,364.83 508.9,364.88 508.1,364.85 507.3,365.00 506.5,365.07 505.7,364.99 504.9,364.96 504.1,364.80 503.3,364.84 502.5,364.83 501.7,364.91 500.9,364.93 500.1,364.94 499.3,365.75 498.5,365.04 497.7,365.05 496.9,365.92 496.1,364.85 495.3,365.09 494.5,365.64 493.7,365.00 492.9,364.81 492.1,364.81 491.3,365.04 490.5,364.87 489.7,364.84 488.9,364.87 488.1,364.94 487.3,365.74 486.5,364.86 485.7,364.91 484.9,364.99 484.1,364.90 483.3,364.81 482.5,364.80 481.7,364.80 480.9,364.92 480.1,365.08 479.3,365.77 478.5,364.84 477.7,365.07 476.9,364.85 476.1,365.04 475.3,364.89 474.5,364.91 473.7,365.06 472.9,365.22 472.1,365.09 471.3,364.86 470.5,364.95 469.7,364.92 468.9,365.01 468.1,364.94 467.3,365.09 466.5,364.87 465.7,364.98 464.9,365.58 464.1,365.82 463.3,364.87 462.5,364.99 461.7,364.81 460.9,364.82 460.1,364.80 459.3,365.75 458.5,364.87 457.7,364.98 456.9,365.01 456.1,364.99 455.3,365.07 454.5,364.85 453.7,364.88 452.9,365.00 452.1,364.90 451.3,364.96 450.5,364.90 449.7,365.02 448.9,365.01 448.1,364.89 447.3,365.00 446.5,365.43 445.7,365.05 444.9,364.99 444.1,364.91 443.3,364.97 442.5,364.89 441.7,364.94 440.9,365.09 440.1,364.83 439.3,365.08 438.5,365.09 437.7,365.15 436.9,364.95 436.1,365.05 435.3,365.01 434.5,365.00 433.7,364.93 432.9,364.88 432.1,364.97 431.3,365.09 430.5,365.34 429.7,364.97 428.9,365.74 428.1,364.96 427.3,364.91 426.5,364.82 425.7,364.91 424.9,364.83 424.1,364.94 423.3,365.02 422.5,364.95 421.7,365.07 420.9,364.91 420.1,365.05 419.2,365.04" fill="#000"/>
<ellipse cx="420.45" cy="363.05" rx="1.2" ry="2.45" fill="#000"/>
<rect x="534.70" y="278.50" width="110.80" height="84.00" fill="#fff" stroke="none"/>
<rect x="534.70" y="362.30" width="98.10" height="2.75" fill="#000"/>
<line x1="534.70" y1="278.50" x2="534.70" y2="362.50" stroke="#222" stroke-width="1.1" />
<line x1="534.70" y1="362.00" x2="645.50" y2="362.00" stroke="#404040" stroke-width="1.0" />
<rect x="562.50" y="283.50" width="78.00" height="58.00" fill="none" stroke="#9c9c9c" stroke-width="1"/>
<path d="M562.50,310.50 L570.53,310.50 L571.03,299.58 L571.93,320.74 L572.43,310.50 L583.69,310.50 L584.19,299.58 L585.09,320.74 L585.59,310.50 L596.61,310.50 L597.11,299.58 L598.01,320.74 L598.51,310.50 L609.77,310.50 L610.27,299.58 L611.17,320.74 L611.67,310.50 L622.94,310.50 L623.44,299.58 L624.34,320.74 L624.84,310.50 L635.61,310.50 L636.11,299.58 L637.01,320.74 L637.51,310.50 L640.50,310.50" stroke="#505050" stroke-width="0.55" fill="none"/>
<line x1="562.50" y1="310.50" x2="640.50" y2="310.50" stroke="#2a2a2a" stroke-width="1.0" stroke-dasharray="3.2 0.5 1.4 0.4 2.3 0.6"/>
<line x1="561.00" y1="283.21" x2="562.50" y2="283.21" stroke="#999" stroke-width="0.7" />
<text x="560.80" y="285.81" font-size="7.3" fill="#222" text-anchor="end" >0.8</text>
<line x1="561.00" y1="310.50" x2="562.50" y2="310.50" stroke="#999" stroke-width="0.7" />
<text x="560.80" y="313.10" font-size="7.3" fill="#222" text-anchor="end" >0.0</text>
<line x1="561.00" y1="337.79" x2="562.50" y2="337.79" stroke="#999" stroke-width="0.7" />
<text x="560.80" y="340.39" font-size="7.3" fill="#222" text-anchor="end" >-0.8</text>
<line x1="562.50" y1="341.50" x2="562.50" y2="343.00" stroke="#999" stroke-width="0.7" />
<text x="562.50" y="349.70" font-size="7.2" fill="#222" text-anchor="middle" >0</text>
<line x1="601.50" y1="341.50" x2="601.50" y2="343.00" stroke="#999" stroke-width="0.7" />
<text x="601.50" y="349.70" font-size="7.2" fill="#222" text-anchor="middle" >8</text>
<line x1="640.50" y1="341.50" x2="640.50" y2="343.00" stroke="#999" stroke-width="0.7" />
<text x="640.50" y="349.70" font-size="7.2" fill="#222" text-anchor="middle" >16</text>
<text x="580.20" y="358.40" font-size="12.4" fill="#0a0a0a" text-anchor="start" font-weight="700" stroke="#0a0a0a" stroke-width="0.3" stroke-linejoin="round" textLength="45.60" lengthAdjust="spacingAndGlyphs" >Time (s)</text>
<text x="544.60" y="345.50" font-size="12.6" fill="#0a0a0a" text-anchor="start" font-weight="700" stroke="#0a0a0a" stroke-width="0.3" stroke-linejoin="round" textLength="65.00" lengthAdjust="spacingAndGlyphs" transform="rotate(-90 544.60 345.50)" >Voltage (V)</text>
<path d="M401.60,460.15 V278.50 H645.50 V460.15 M401.60,457.95 H645.50" stroke="#404040" stroke-width="1.0" fill="none"/>
<line x1="534.20" y1="278.60" x2="646.00" y2="278.60" stroke="#111" stroke-width="1.2" />
<line x1="645.50" y1="278.50" x2="645.50" y2="362.50" stroke="#222" stroke-width="1.1" />
<line x1="397.40" y1="447.40" x2="401.60" y2="447.40" stroke="#404040" stroke-width="1.0" />
<text x="395.80" y="451.10" font-size="12.8" fill="#0a0a0a" text-anchor="end" >-0.8</text>
<line x1="399.40" y1="426.29" x2="401.60" y2="426.29" stroke="#404040" stroke-width="1.0" />
<line x1="397.40" y1="405.17" x2="401.60" y2="405.17" stroke="#404040" stroke-width="1.0" />
<text x="395.80" y="408.87" font-size="12.8" fill="#0a0a0a" text-anchor="end" >-0.4</text>
<line x1="399.40" y1="384.06" x2="401.60" y2="384.06" stroke="#404040" stroke-width="1.0" />
<line x1="397.40" y1="362.95" x2="401.60" y2="362.95" stroke="#404040" stroke-width="1.0" />
<text x="395.80" y="366.65" font-size="12.8" fill="#0a0a0a" text-anchor="end" >0.0</text>
<line x1="399.40" y1="341.84" x2="401.60" y2="341.84" stroke="#404040" stroke-width="1.0" />
<line x1="397.40" y1="320.73" x2="401.60" y2="320.73" stroke="#404040" stroke-width="1.0" />
<text x="395.80" y="324.43" font-size="12.8" fill="#0a0a0a" text-anchor="end" >0.4</text>
<line x1="399.40" y1="299.61" x2="401.60" y2="299.61" stroke="#404040" stroke-width="1.0" />
<line x1="397.40" y1="278.50" x2="401.60" y2="278.50" stroke="#404040" stroke-width="1.0" />
<text x="395.80" y="282.20" font-size="12.8" fill="#0a0a0a" text-anchor="end" >0.8</text>
<line x1="419.05" y1="457.95" x2="419.05" y2="462.05" stroke="#404040" stroke-width="1.0" />
<text x="419.05" y="475.35" font-size="12.8" fill="#0a0a0a" text-anchor="middle" >0</text>
<line x1="436.47" y1="457.95" x2="436.47" y2="460.15" stroke="#404040" stroke-width="1.0" />
<line x1="453.88" y1="457.95" x2="453.88" y2="462.05" stroke="#404040" stroke-width="1.0" />
<text x="453.88" y="475.35" font-size="12.8" fill="#0a0a0a" text-anchor="middle" >20</text>
<line x1="471.30" y1="457.95" x2="471.30" y2="460.15" stroke="#404040" stroke-width="1.0" />
<line x1="488.72" y1="457.95" x2="488.72" y2="462.05" stroke="#404040" stroke-width="1.0" />
<text x="488.72" y="475.35" font-size="12.8" fill="#0a0a0a" text-anchor="middle" >40</text>
<line x1="506.13" y1="457.95" x2="506.13" y2="460.15" stroke="#404040" stroke-width="1.0" />
<line x1="523.55" y1="457.95" x2="523.55" y2="462.05" stroke="#404040" stroke-width="1.0" />
<text x="523.55" y="475.35" font-size="12.8" fill="#0a0a0a" text-anchor="middle" >60</text>
<line x1="540.97" y1="457.95" x2="540.97" y2="460.15" stroke="#404040" stroke-width="1.0" />
<line x1="558.39" y1="457.95" x2="558.39" y2="462.05" stroke="#404040" stroke-width="1.0" />
<text x="558.39" y="475.35" font-size="12.8" fill="#0a0a0a" text-anchor="middle" >80</text>
<line x1="575.80" y1="457.95" x2="575.80" y2="460.15" stroke="#404040" stroke-width="1.0" />
<line x1="593.22" y1="457.95" x2="593.22" y2="462.05" stroke="#404040" stroke-width="1.0" />
<text x="593.22" y="475.35" font-size="12.8" fill="#0a0a0a" text-anchor="middle" >100</text>
<line x1="610.64" y1="457.95" x2="610.64" y2="460.15" stroke="#404040" stroke-width="1.0" />
<line x1="628.05" y1="457.95" x2="628.05" y2="462.05" stroke="#404040" stroke-width="1.0" />
<text x="628.05" y="475.35" font-size="12.8" fill="#0a0a0a" text-anchor="middle" >120</text>
<text x="491.05" y="495.05" font-size="18" fill="#0a0a0a" text-anchor="start" font-weight="700" stroke="#0a0a0a" stroke-width="0.4" stroke-linejoin="round" textLength="65.00" lengthAdjust="spacingAndGlyphs" >Time (s)</text>
<text x="363.90" y="420.32" font-size="18" fill="#0a0a0a" text-anchor="start" font-weight="700" stroke="#0a0a0a" stroke-width="0.4" stroke-linejoin="round" textLength="93.00" lengthAdjust="spacingAndGlyphs" transform="rotate(-90 363.90 420.32)" >Voltage (V)</text>
<text x="340.30" y="277.20" font-size="24" fill="#000" text-anchor="start" font-weight="700" stroke="#000" stroke-width="0.4" stroke-linejoin="round" textLength="31.00" lengthAdjust="spacingAndGlyphs" >(d)</text>
<text x="446.10" y="448.60" font-size="18" fill="#0a0a0a" text-anchor="start" font-weight="700" stroke="#0a0a0a" stroke-width="0.4" stroke-linejoin="round" textLength="191.80" lengthAdjust="spacingAndGlyphs" >Water vapour (85 RH%)</text>
</svg>
</body></html>
